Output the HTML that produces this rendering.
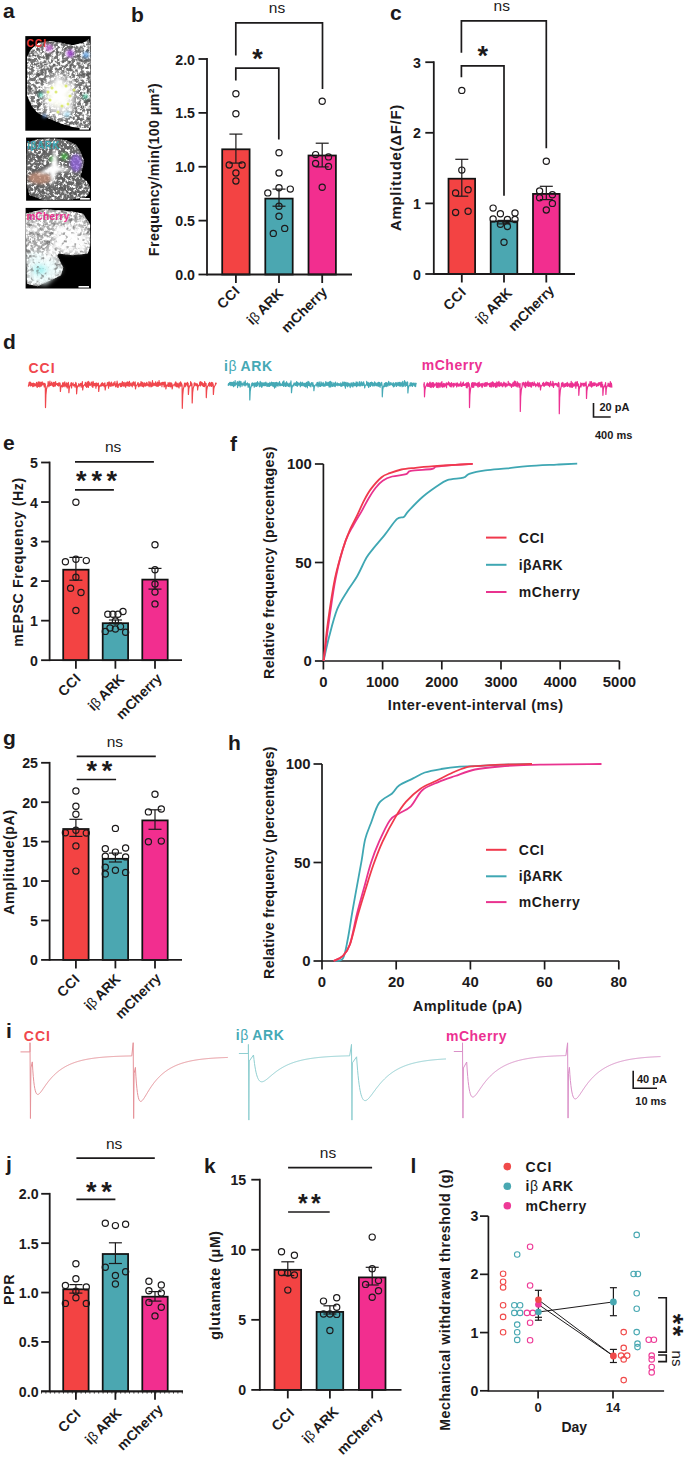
<!DOCTYPE html>
<html><head><meta charset="utf-8"><style>
html,body{margin:0;padding:0;background:#fff;}
body{width:685px;height:1457px;overflow:hidden;}
svg{display:block;}
</style></head><body>
<svg width="685" height="1457" viewBox="0 0 685 1457">
<rect width="685" height="1457" fill="#ffffff"/>
<text x="3.0" y="17.5" font-family="Liberation Sans" font-size="21" font-weight="bold" text-anchor="start" fill="#1c1a1b" >a</text>
<text x="131.0" y="21.5" font-family="Liberation Sans" font-size="21" font-weight="bold" text-anchor="start" fill="#1c1a1b" >b</text>
<text x="390.0" y="19.5" font-family="Liberation Sans" font-size="21" font-weight="bold" text-anchor="start" fill="#1c1a1b" >c</text>
<text x="3.0" y="349.0" font-family="Liberation Sans" font-size="21" font-weight="bold" text-anchor="start" fill="#1c1a1b" >d</text>
<text x="3.0" y="449.5" font-family="Liberation Sans" font-size="21" font-weight="bold" text-anchor="start" fill="#1c1a1b" >e</text>
<text x="230.0" y="451.0" font-family="Liberation Sans" font-size="21" font-weight="bold" text-anchor="start" fill="#1c1a1b" >f</text>
<text x="3.0" y="744.5" font-family="Liberation Sans" font-size="21" font-weight="bold" text-anchor="start" fill="#1c1a1b" >g</text>
<text x="228.0" y="749.5" font-family="Liberation Sans" font-size="21" font-weight="bold" text-anchor="start" fill="#1c1a1b" >h</text>
<text x="6.0" y="1038.0" font-family="Liberation Sans" font-size="21" font-weight="bold" text-anchor="start" fill="#1c1a1b" >i</text>
<text x="6.0" y="1170.5" font-family="Liberation Sans" font-size="21" font-weight="bold" text-anchor="start" fill="#1c1a1b" >j</text>
<text x="204.0" y="1173.0" font-family="Liberation Sans" font-size="21" font-weight="bold" text-anchor="start" fill="#1c1a1b" >k</text>
<text x="410.5" y="1172.5" font-family="Liberation Sans" font-size="21" font-weight="bold" text-anchor="start" fill="#1c1a1b" >l</text>
<rect x="222.20" y="149.30" width="27.40" height="125.20" fill="#f34343" stroke="#121212" stroke-width="1.75"/>
<rect x="265.30" y="198.60" width="27.40" height="75.90" fill="#4ba7b1" stroke="#121212" stroke-width="1.75"/>
<rect x="308.50" y="155.50" width="27.40" height="119.00" fill="#f22e8f" stroke="#121212" stroke-width="1.75"/>
<line x1="235.90" y1="134.10" x2="235.90" y2="163.10" stroke="#1c1a1b" stroke-width="1.2" />
<line x1="229.40" y1="134.10" x2="242.40" y2="134.10" stroke="#1c1a1b" stroke-width="1.2" />
<line x1="229.40" y1="163.10" x2="242.40" y2="163.10" stroke="#1c1a1b" stroke-width="1.2" />
<line x1="279.00" y1="189.10" x2="279.00" y2="206.20" stroke="#1c1a1b" stroke-width="1.2" />
<line x1="272.50" y1="189.10" x2="285.50" y2="189.10" stroke="#1c1a1b" stroke-width="1.2" />
<line x1="272.50" y1="206.20" x2="285.50" y2="206.20" stroke="#1c1a1b" stroke-width="1.2" />
<line x1="322.20" y1="143.20" x2="322.20" y2="166.90" stroke="#1c1a1b" stroke-width="1.2" />
<line x1="315.70" y1="143.20" x2="328.70" y2="143.20" stroke="#1c1a1b" stroke-width="1.2" />
<line x1="315.70" y1="166.90" x2="328.70" y2="166.90" stroke="#1c1a1b" stroke-width="1.2" />
<circle cx="235.90" cy="93.70" r="3.1" fill="none" stroke="#1c1a1b" stroke-width="1.2"/>
<circle cx="235.90" cy="113.80" r="3.1" fill="none" stroke="#1c1a1b" stroke-width="1.2"/>
<circle cx="229.20" cy="165.00" r="3.1" fill="none" stroke="#1c1a1b" stroke-width="1.2"/>
<circle cx="242.10" cy="165.00" r="3.1" fill="none" stroke="#1c1a1b" stroke-width="1.2"/>
<circle cx="235.90" cy="173.00" r="3.1" fill="none" stroke="#1c1a1b" stroke-width="1.2"/>
<circle cx="235.90" cy="181.00" r="3.1" fill="none" stroke="#1c1a1b" stroke-width="1.2"/>
<circle cx="279.00" cy="152.70" r="3.1" fill="none" stroke="#1c1a1b" stroke-width="1.2"/>
<circle cx="279.00" cy="173.00" r="3.1" fill="none" stroke="#1c1a1b" stroke-width="1.2"/>
<circle cx="279.00" cy="187.80" r="3.1" fill="none" stroke="#1c1a1b" stroke-width="1.2"/>
<circle cx="290.30" cy="189.10" r="3.1" fill="none" stroke="#1c1a1b" stroke-width="1.2"/>
<circle cx="267.80" cy="192.90" r="3.1" fill="none" stroke="#1c1a1b" stroke-width="1.2"/>
<circle cx="279.00" cy="206.20" r="3.1" fill="none" stroke="#1c1a1b" stroke-width="1.2"/>
<circle cx="279.00" cy="216.30" r="3.1" fill="none" stroke="#1c1a1b" stroke-width="1.2"/>
<circle cx="284.70" cy="228.40" r="3.1" fill="none" stroke="#1c1a1b" stroke-width="1.2"/>
<circle cx="273.30" cy="233.40" r="3.1" fill="none" stroke="#1c1a1b" stroke-width="1.2"/>
<circle cx="322.20" cy="101.30" r="3.1" fill="none" stroke="#1c1a1b" stroke-width="1.2"/>
<circle cx="315.60" cy="154.60" r="3.1" fill="none" stroke="#1c1a1b" stroke-width="1.2"/>
<circle cx="328.50" cy="156.90" r="3.1" fill="none" stroke="#1c1a1b" stroke-width="1.2"/>
<circle cx="315.60" cy="163.50" r="3.1" fill="none" stroke="#1c1a1b" stroke-width="1.2"/>
<circle cx="328.50" cy="166.40" r="3.1" fill="none" stroke="#1c1a1b" stroke-width="1.2"/>
<circle cx="322.20" cy="187.20" r="3.1" fill="none" stroke="#1c1a1b" stroke-width="1.2"/>
<line x1="207.00" y1="58.10" x2="207.00" y2="275.40" stroke="#1c1a1b" stroke-width="1.8" />
<line x1="207.00" y1="274.50" x2="352.00" y2="274.50" stroke="#1c1a1b" stroke-width="1.8" />
<line x1="198.50" y1="274.50" x2="207.00" y2="274.50" stroke="#1c1a1b" stroke-width="1.8" />
<text x="195.0" y="280.0" font-family="Liberation Sans" font-size="14.2" font-weight="bold" text-anchor="end" fill="#1c1a1b" >0.0</text>
<line x1="198.50" y1="220.62" x2="207.00" y2="220.62" stroke="#1c1a1b" stroke-width="1.8" />
<text x="195.0" y="226.1" font-family="Liberation Sans" font-size="14.2" font-weight="bold" text-anchor="end" fill="#1c1a1b" >0.5</text>
<line x1="198.50" y1="166.75" x2="207.00" y2="166.75" stroke="#1c1a1b" stroke-width="1.8" />
<text x="195.0" y="172.2" font-family="Liberation Sans" font-size="14.2" font-weight="bold" text-anchor="end" fill="#1c1a1b" >1.0</text>
<line x1="198.50" y1="112.88" x2="207.00" y2="112.88" stroke="#1c1a1b" stroke-width="1.8" />
<text x="195.0" y="118.4" font-family="Liberation Sans" font-size="14.2" font-weight="bold" text-anchor="end" fill="#1c1a1b" >1.5</text>
<line x1="198.50" y1="59.00" x2="207.00" y2="59.00" stroke="#1c1a1b" stroke-width="1.8" />
<text x="195.0" y="64.5" font-family="Liberation Sans" font-size="14.2" font-weight="bold" text-anchor="end" fill="#1c1a1b" >2.0</text>
<line x1="235.90" y1="274.50" x2="235.90" y2="283.00" stroke="#1c1a1b" stroke-width="1.8" />
<line x1="279.00" y1="274.50" x2="279.00" y2="283.00" stroke="#1c1a1b" stroke-width="1.8" />
<line x1="322.20" y1="274.50" x2="322.20" y2="283.00" stroke="#1c1a1b" stroke-width="1.8" />
<text x="240.9" y="291.6" font-family="Liberation Sans" font-size="14" font-weight="bold" text-anchor="end" fill="#1c1a1b" transform="rotate(-45 240.9 291.6)" letter-spacing="0.5">CCI</text>
<text x="284.0" y="294.4" font-family="Liberation Sans" font-size="14" font-weight="bold" text-anchor="end" fill="#1c1a1b" transform="rotate(-45 284.0 294.4)" letter-spacing="-0.1">i<tspan font-weight="normal">β</tspan>&#8201;ARK</text>
<text x="328.1" y="292.6" font-family="Liberation Sans" font-size="14" font-weight="bold" text-anchor="end" fill="#1c1a1b" transform="rotate(-45 328.1 292.6)" letter-spacing="0.05">mCherry</text>
<text x="154.0" y="169.5" font-family="Liberation Sans" font-size="14.2" font-weight="bold" text-anchor="middle" fill="#1c1a1b" transform="rotate(-90 154.0 169.5)" dominant-baseline="central" letter-spacing="0.42">Frequency/min(100 μm²)</text>
<polyline points="235.80,55.40 235.80,22.80 322.50,22.80 322.50,89.00" fill="none" stroke="#1c1a1b" stroke-width="1.7" stroke-linejoin="miter" />
<polyline points="235.80,80.60 235.80,68.20 278.80,68.20 278.80,139.40" fill="none" stroke="#1c1a1b" stroke-width="1.7" stroke-linejoin="miter" />
<text x="277.0" y="13.3" font-family="Liberation Sans" font-size="15.5" font-weight="normal" text-anchor="middle" fill="#1c1a1b" >ns</text>
<text x="257.4" y="68.0" font-family="Liberation Sans" font-size="27" font-weight="bold" text-anchor="middle" fill="#1c1a1b" >*</text>
<rect x="448.50" y="178.70" width="26.60" height="95.30" fill="#f34343" stroke="#121212" stroke-width="1.75"/>
<rect x="490.70" y="221.40" width="26.60" height="52.60" fill="#4ba7b1" stroke="#121212" stroke-width="1.75"/>
<rect x="533.00" y="193.90" width="26.60" height="80.10" fill="#f22e8f" stroke="#121212" stroke-width="1.75"/>
<line x1="461.80" y1="159.30" x2="461.80" y2="196.20" stroke="#1c1a1b" stroke-width="1.2" />
<line x1="455.30" y1="159.30" x2="468.30" y2="159.30" stroke="#1c1a1b" stroke-width="1.2" />
<line x1="455.30" y1="196.20" x2="468.30" y2="196.20" stroke="#1c1a1b" stroke-width="1.2" />
<line x1="504.00" y1="220.40" x2="504.00" y2="223.90" stroke="#1c1a1b" stroke-width="1.2" />
<line x1="497.50" y1="220.40" x2="510.50" y2="220.40" stroke="#1c1a1b" stroke-width="1.2" />
<line x1="497.50" y1="223.90" x2="510.50" y2="223.90" stroke="#1c1a1b" stroke-width="1.2" />
<line x1="546.30" y1="186.30" x2="546.30" y2="199.60" stroke="#1c1a1b" stroke-width="1.2" />
<line x1="539.80" y1="186.30" x2="552.80" y2="186.30" stroke="#1c1a1b" stroke-width="1.2" />
<line x1="539.80" y1="199.60" x2="552.80" y2="199.60" stroke="#1c1a1b" stroke-width="1.2" />
<circle cx="461.80" cy="90.40" r="3.1" fill="none" stroke="#1c1a1b" stroke-width="1.2"/>
<circle cx="461.80" cy="170.10" r="3.1" fill="none" stroke="#1c1a1b" stroke-width="1.2"/>
<circle cx="455.60" cy="192.90" r="3.1" fill="none" stroke="#1c1a1b" stroke-width="1.2"/>
<circle cx="468.10" cy="189.70" r="3.1" fill="none" stroke="#1c1a1b" stroke-width="1.2"/>
<circle cx="455.60" cy="212.50" r="3.1" fill="none" stroke="#1c1a1b" stroke-width="1.2"/>
<circle cx="468.10" cy="211.30" r="3.1" fill="none" stroke="#1c1a1b" stroke-width="1.2"/>
<circle cx="493.10" cy="208.10" r="3.1" fill="none" stroke="#1c1a1b" stroke-width="1.2"/>
<circle cx="500.40" cy="213.80" r="3.1" fill="none" stroke="#1c1a1b" stroke-width="1.2"/>
<circle cx="515.00" cy="212.90" r="3.1" fill="none" stroke="#1c1a1b" stroke-width="1.2"/>
<circle cx="493.10" cy="218.90" r="3.1" fill="none" stroke="#1c1a1b" stroke-width="1.2"/>
<circle cx="507.40" cy="219.50" r="3.1" fill="none" stroke="#1c1a1b" stroke-width="1.2"/>
<circle cx="515.00" cy="219.50" r="3.1" fill="none" stroke="#1c1a1b" stroke-width="1.2"/>
<circle cx="500.40" cy="224.20" r="3.1" fill="none" stroke="#1c1a1b" stroke-width="1.2"/>
<circle cx="507.40" cy="226.50" r="3.1" fill="none" stroke="#1c1a1b" stroke-width="1.2"/>
<circle cx="504.00" cy="242.30" r="3.1" fill="none" stroke="#1c1a1b" stroke-width="1.2"/>
<circle cx="546.30" cy="161.20" r="3.1" fill="none" stroke="#1c1a1b" stroke-width="1.2"/>
<circle cx="539.60" cy="191.00" r="3.1" fill="none" stroke="#1c1a1b" stroke-width="1.2"/>
<circle cx="552.40" cy="194.80" r="3.1" fill="none" stroke="#1c1a1b" stroke-width="1.2"/>
<circle cx="539.60" cy="197.70" r="3.1" fill="none" stroke="#1c1a1b" stroke-width="1.2"/>
<circle cx="552.40" cy="203.40" r="3.1" fill="none" stroke="#1c1a1b" stroke-width="1.2"/>
<circle cx="546.30" cy="210.00" r="3.1" fill="none" stroke="#1c1a1b" stroke-width="1.2"/>
<line x1="433.80" y1="61.30" x2="433.80" y2="274.90" stroke="#1c1a1b" stroke-width="1.8" />
<line x1="433.80" y1="274.00" x2="575.00" y2="274.00" stroke="#1c1a1b" stroke-width="1.8" />
<line x1="425.30" y1="274.00" x2="433.80" y2="274.00" stroke="#1c1a1b" stroke-width="1.8" />
<text x="421.0" y="279.5" font-family="Liberation Sans" font-size="14.2" font-weight="bold" text-anchor="end" fill="#1c1a1b" >0</text>
<line x1="425.30" y1="203.40" x2="433.80" y2="203.40" stroke="#1c1a1b" stroke-width="1.8" />
<text x="421.0" y="208.9" font-family="Liberation Sans" font-size="14.2" font-weight="bold" text-anchor="end" fill="#1c1a1b" >1</text>
<line x1="425.30" y1="132.80" x2="433.80" y2="132.80" stroke="#1c1a1b" stroke-width="1.8" />
<text x="421.0" y="138.3" font-family="Liberation Sans" font-size="14.2" font-weight="bold" text-anchor="end" fill="#1c1a1b" >2</text>
<line x1="425.30" y1="62.20" x2="433.80" y2="62.20" stroke="#1c1a1b" stroke-width="1.8" />
<text x="421.0" y="67.7" font-family="Liberation Sans" font-size="14.2" font-weight="bold" text-anchor="end" fill="#1c1a1b" >3</text>
<line x1="461.80" y1="274.00" x2="461.80" y2="282.50" stroke="#1c1a1b" stroke-width="1.8" />
<line x1="504.00" y1="274.00" x2="504.00" y2="282.50" stroke="#1c1a1b" stroke-width="1.8" />
<line x1="546.30" y1="274.00" x2="546.30" y2="282.50" stroke="#1c1a1b" stroke-width="1.8" />
<text x="467.2" y="293.0" font-family="Liberation Sans" font-size="14" font-weight="bold" text-anchor="end" fill="#1c1a1b" transform="rotate(-45 467.2 293.0)" letter-spacing="0.5">CCI</text>
<text x="512.8" y="293.9" font-family="Liberation Sans" font-size="14" font-weight="bold" text-anchor="end" fill="#1c1a1b" transform="rotate(-45 512.8 293.9)" letter-spacing="-0.1">i<tspan font-weight="normal">β</tspan>&#8201;ARK</text>
<text x="555.1" y="291.1" font-family="Liberation Sans" font-size="14" font-weight="bold" text-anchor="end" fill="#1c1a1b" transform="rotate(-45 555.1 291.1)" letter-spacing="0.05">mCherry</text>
<text x="395.0" y="167.5" font-family="Liberation Sans" font-size="15" font-weight="bold" text-anchor="middle" fill="#1c1a1b" transform="rotate(-90 395.0 167.5)" dominant-baseline="central" letter-spacing="0.7">Amplitude(ΔF/F)</text>
<polyline points="461.40,52.70 461.40,20.80 546.30,20.80 546.30,148.30" fill="none" stroke="#1c1a1b" stroke-width="1.7" stroke-linejoin="miter" />
<polyline points="461.40,77.30 461.40,65.80 504.00,65.80 504.00,195.80" fill="none" stroke="#1c1a1b" stroke-width="1.7" stroke-linejoin="miter" />
<text x="501.8" y="11.0" font-family="Liberation Sans" font-size="15.5" font-weight="normal" text-anchor="middle" fill="#1c1a1b" >ns</text>
<text x="482.8" y="65.4" font-family="Liberation Sans" font-size="27" font-weight="bold" text-anchor="middle" fill="#1c1a1b" >*</text>
<rect x="63.20" y="569.70" width="25.40" height="90.50" fill="#f34343" stroke="#121212" stroke-width="1.75"/>
<rect x="102.70" y="623.20" width="25.40" height="37.00" fill="#4ba7b1" stroke="#121212" stroke-width="1.75"/>
<rect x="142.30" y="579.60" width="25.40" height="80.60" fill="#f22e8f" stroke="#121212" stroke-width="1.75"/>
<line x1="75.90" y1="557.40" x2="75.90" y2="580.20" stroke="#1c1a1b" stroke-width="1.2" />
<line x1="69.40" y1="557.40" x2="82.40" y2="557.40" stroke="#1c1a1b" stroke-width="1.2" />
<line x1="69.40" y1="580.20" x2="82.40" y2="580.20" stroke="#1c1a1b" stroke-width="1.2" />
<line x1="115.40" y1="620.00" x2="115.40" y2="622.90" stroke="#1c1a1b" stroke-width="1.2" />
<line x1="108.90" y1="620.00" x2="121.90" y2="620.00" stroke="#1c1a1b" stroke-width="1.2" />
<line x1="108.90" y1="622.90" x2="121.90" y2="622.90" stroke="#1c1a1b" stroke-width="1.2" />
<line x1="155.00" y1="568.40" x2="155.00" y2="589.10" stroke="#1c1a1b" stroke-width="1.2" />
<line x1="148.50" y1="568.40" x2="161.50" y2="568.40" stroke="#1c1a1b" stroke-width="1.2" />
<line x1="148.50" y1="589.10" x2="161.50" y2="589.10" stroke="#1c1a1b" stroke-width="1.2" />
<circle cx="75.90" cy="502.30" r="3.1" fill="none" stroke="#1c1a1b" stroke-width="1.2"/>
<circle cx="65.40" cy="561.70" r="3.1" fill="none" stroke="#1c1a1b" stroke-width="1.2"/>
<circle cx="75.90" cy="559.30" r="3.1" fill="none" stroke="#1c1a1b" stroke-width="1.2"/>
<circle cx="86.30" cy="560.60" r="3.1" fill="none" stroke="#1c1a1b" stroke-width="1.2"/>
<circle cx="75.90" cy="577.30" r="3.1" fill="none" stroke="#1c1a1b" stroke-width="1.2"/>
<circle cx="70.60" cy="588.30" r="3.1" fill="none" stroke="#1c1a1b" stroke-width="1.2"/>
<circle cx="81.00" cy="592.50" r="3.1" fill="none" stroke="#1c1a1b" stroke-width="1.2"/>
<circle cx="75.90" cy="610.50" r="3.1" fill="none" stroke="#1c1a1b" stroke-width="1.2"/>
<circle cx="107.80" cy="614.30" r="3.1" fill="none" stroke="#1c1a1b" stroke-width="1.2"/>
<circle cx="112.90" cy="614.30" r="3.1" fill="none" stroke="#1c1a1b" stroke-width="1.2"/>
<circle cx="118.00" cy="614.30" r="3.1" fill="none" stroke="#1c1a1b" stroke-width="1.2"/>
<circle cx="123.00" cy="611.50" r="3.1" fill="none" stroke="#1c1a1b" stroke-width="1.2"/>
<circle cx="115.40" cy="621.00" r="3.1" fill="none" stroke="#1c1a1b" stroke-width="1.2"/>
<circle cx="105.30" cy="631.40" r="3.1" fill="none" stroke="#1c1a1b" stroke-width="1.2"/>
<circle cx="110.00" cy="628.00" r="3.1" fill="none" stroke="#1c1a1b" stroke-width="1.2"/>
<circle cx="115.40" cy="629.00" r="3.1" fill="none" stroke="#1c1a1b" stroke-width="1.2"/>
<circle cx="120.50" cy="626.60" r="3.1" fill="none" stroke="#1c1a1b" stroke-width="1.2"/>
<circle cx="125.60" cy="632.30" r="3.1" fill="none" stroke="#1c1a1b" stroke-width="1.2"/>
<circle cx="155.00" cy="544.70" r="3.1" fill="none" stroke="#1c1a1b" stroke-width="1.2"/>
<circle cx="155.00" cy="569.70" r="3.1" fill="none" stroke="#1c1a1b" stroke-width="1.2"/>
<circle cx="155.00" cy="584.00" r="3.1" fill="none" stroke="#1c1a1b" stroke-width="1.2"/>
<circle cx="155.00" cy="592.10" r="3.1" fill="none" stroke="#1c1a1b" stroke-width="1.2"/>
<circle cx="155.00" cy="603.90" r="3.1" fill="none" stroke="#1c1a1b" stroke-width="1.2"/>
<line x1="49.60" y1="461.60" x2="49.60" y2="661.10" stroke="#1c1a1b" stroke-width="1.8" />
<line x1="49.60" y1="660.20" x2="182.00" y2="660.20" stroke="#1c1a1b" stroke-width="1.8" />
<line x1="41.10" y1="660.20" x2="49.60" y2="660.20" stroke="#1c1a1b" stroke-width="1.8" />
<text x="38.0" y="665.7" font-family="Liberation Sans" font-size="14.2" font-weight="bold" text-anchor="end" fill="#1c1a1b" >0</text>
<line x1="41.10" y1="620.66" x2="49.60" y2="620.66" stroke="#1c1a1b" stroke-width="1.8" />
<text x="38.0" y="626.2" font-family="Liberation Sans" font-size="14.2" font-weight="bold" text-anchor="end" fill="#1c1a1b" >1</text>
<line x1="41.10" y1="581.12" x2="49.60" y2="581.12" stroke="#1c1a1b" stroke-width="1.8" />
<text x="38.0" y="586.6" font-family="Liberation Sans" font-size="14.2" font-weight="bold" text-anchor="end" fill="#1c1a1b" >2</text>
<line x1="41.10" y1="541.58" x2="49.60" y2="541.58" stroke="#1c1a1b" stroke-width="1.8" />
<text x="38.0" y="547.1" font-family="Liberation Sans" font-size="14.2" font-weight="bold" text-anchor="end" fill="#1c1a1b" >3</text>
<line x1="41.10" y1="502.04" x2="49.60" y2="502.04" stroke="#1c1a1b" stroke-width="1.8" />
<text x="38.0" y="507.5" font-family="Liberation Sans" font-size="14.2" font-weight="bold" text-anchor="end" fill="#1c1a1b" >4</text>
<line x1="41.10" y1="462.50" x2="49.60" y2="462.50" stroke="#1c1a1b" stroke-width="1.8" />
<text x="38.0" y="468.0" font-family="Liberation Sans" font-size="14.2" font-weight="bold" text-anchor="end" fill="#1c1a1b" >5</text>
<line x1="75.90" y1="660.20" x2="75.90" y2="668.70" stroke="#1c1a1b" stroke-width="1.8" />
<line x1="115.40" y1="660.20" x2="115.40" y2="668.70" stroke="#1c1a1b" stroke-width="1.8" />
<line x1="155.00" y1="660.20" x2="155.00" y2="668.70" stroke="#1c1a1b" stroke-width="1.8" />
<text x="81.9" y="679.2" font-family="Liberation Sans" font-size="14" font-weight="bold" text-anchor="end" fill="#1c1a1b" transform="rotate(-45 81.9 679.2)" letter-spacing="0.5">CCI</text>
<text x="125.1" y="680.2" font-family="Liberation Sans" font-size="14" font-weight="bold" text-anchor="end" fill="#1c1a1b" transform="rotate(-45 125.1 680.2)" letter-spacing="-0.1">i<tspan font-weight="normal">β</tspan>&#8201;ARK</text>
<text x="162.8" y="679.2" font-family="Liberation Sans" font-size="14" font-weight="bold" text-anchor="end" fill="#1c1a1b" transform="rotate(-45 162.8 679.2)" letter-spacing="0.05">mCherry</text>
<text x="17.5" y="562.0" font-family="Liberation Sans" font-size="14.2" font-weight="bold" text-anchor="middle" fill="#1c1a1b" transform="rotate(-90 17.5 562.0)" dominant-baseline="central" letter-spacing="0.6">mEPSC Frequency (Hz)</text>
<line x1="75.00" y1="461.80" x2="153.90" y2="461.80" stroke="#1c1a1b" stroke-width="1.7" />
<line x1="75.00" y1="489.80" x2="113.90" y2="489.80" stroke="#1c1a1b" stroke-width="1.7" />
<text x="113.2" y="452.0" font-family="Liberation Sans" font-size="15.5" font-weight="normal" text-anchor="middle" fill="#1c1a1b" >ns</text>
<text x="81.2" y="490.4" font-family="Liberation Sans" font-size="27" font-weight="bold" text-anchor="middle" fill="#1c1a1b" >*</text>
<text x="96.7" y="490.4" font-family="Liberation Sans" font-size="27" font-weight="bold" text-anchor="middle" fill="#1c1a1b" >*</text>
<text x="111.8" y="490.4" font-family="Liberation Sans" font-size="27" font-weight="bold" text-anchor="middle" fill="#1c1a1b" >*</text>
<rect x="63.20" y="829.00" width="25.40" height="130.90" fill="#f34343" stroke="#121212" stroke-width="1.75"/>
<rect x="102.70" y="858.80" width="25.40" height="101.10" fill="#4ba7b1" stroke="#121212" stroke-width="1.75"/>
<rect x="142.30" y="820.40" width="25.40" height="139.50" fill="#f22e8f" stroke="#121212" stroke-width="1.75"/>
<line x1="75.90" y1="819.30" x2="75.90" y2="836.40" stroke="#1c1a1b" stroke-width="1.2" />
<line x1="69.40" y1="819.30" x2="82.40" y2="819.30" stroke="#1c1a1b" stroke-width="1.2" />
<line x1="69.40" y1="836.40" x2="82.40" y2="836.40" stroke="#1c1a1b" stroke-width="1.2" />
<line x1="115.40" y1="853.10" x2="115.40" y2="862.00" stroke="#1c1a1b" stroke-width="1.2" />
<line x1="108.90" y1="853.10" x2="121.90" y2="853.10" stroke="#1c1a1b" stroke-width="1.2" />
<line x1="108.90" y1="862.00" x2="121.90" y2="862.00" stroke="#1c1a1b" stroke-width="1.2" />
<line x1="155.00" y1="809.80" x2="155.00" y2="829.30" stroke="#1c1a1b" stroke-width="1.2" />
<line x1="148.50" y1="809.80" x2="161.50" y2="809.80" stroke="#1c1a1b" stroke-width="1.2" />
<line x1="148.50" y1="829.30" x2="161.50" y2="829.30" stroke="#1c1a1b" stroke-width="1.2" />
<circle cx="75.90" cy="791.00" r="3.1" fill="none" stroke="#1c1a1b" stroke-width="1.2"/>
<circle cx="75.90" cy="806.20" r="3.1" fill="none" stroke="#1c1a1b" stroke-width="1.2"/>
<circle cx="75.90" cy="814.20" r="3.1" fill="none" stroke="#1c1a1b" stroke-width="1.2"/>
<circle cx="65.40" cy="832.80" r="3.1" fill="none" stroke="#1c1a1b" stroke-width="1.2"/>
<circle cx="75.90" cy="830.30" r="3.1" fill="none" stroke="#1c1a1b" stroke-width="1.2"/>
<circle cx="86.30" cy="833.10" r="3.1" fill="none" stroke="#1c1a1b" stroke-width="1.2"/>
<circle cx="75.90" cy="845.90" r="3.1" fill="none" stroke="#1c1a1b" stroke-width="1.2"/>
<circle cx="75.90" cy="871.10" r="3.1" fill="none" stroke="#1c1a1b" stroke-width="1.2"/>
<circle cx="115.40" cy="828.40" r="3.1" fill="none" stroke="#1c1a1b" stroke-width="1.2"/>
<circle cx="105.30" cy="848.70" r="3.1" fill="none" stroke="#1c1a1b" stroke-width="1.2"/>
<circle cx="125.60" cy="848.00" r="3.1" fill="none" stroke="#1c1a1b" stroke-width="1.2"/>
<circle cx="115.40" cy="852.10" r="3.1" fill="none" stroke="#1c1a1b" stroke-width="1.2"/>
<circle cx="105.30" cy="856.30" r="3.1" fill="none" stroke="#1c1a1b" stroke-width="1.2"/>
<circle cx="125.60" cy="856.90" r="3.1" fill="none" stroke="#1c1a1b" stroke-width="1.2"/>
<circle cx="105.30" cy="867.30" r="3.1" fill="none" stroke="#1c1a1b" stroke-width="1.2"/>
<circle cx="115.40" cy="870.20" r="3.1" fill="none" stroke="#1c1a1b" stroke-width="1.2"/>
<circle cx="125.60" cy="872.40" r="3.1" fill="none" stroke="#1c1a1b" stroke-width="1.2"/>
<circle cx="105.30" cy="874.00" r="3.1" fill="none" stroke="#1c1a1b" stroke-width="1.2"/>
<circle cx="155.00" cy="794.20" r="3.1" fill="none" stroke="#1c1a1b" stroke-width="1.2"/>
<circle cx="148.40" cy="811.90" r="3.1" fill="none" stroke="#1c1a1b" stroke-width="1.2"/>
<circle cx="161.30" cy="809.00" r="3.1" fill="none" stroke="#1c1a1b" stroke-width="1.2"/>
<circle cx="148.40" cy="841.70" r="3.1" fill="none" stroke="#1c1a1b" stroke-width="1.2"/>
<circle cx="161.30" cy="841.10" r="3.1" fill="none" stroke="#1c1a1b" stroke-width="1.2"/>
<line x1="49.60" y1="761.90" x2="49.60" y2="960.80" stroke="#1c1a1b" stroke-width="1.8" />
<line x1="49.60" y1="959.90" x2="182.00" y2="959.90" stroke="#1c1a1b" stroke-width="1.8" />
<line x1="41.10" y1="959.90" x2="49.60" y2="959.90" stroke="#1c1a1b" stroke-width="1.8" />
<text x="38.0" y="965.4" font-family="Liberation Sans" font-size="14.2" font-weight="bold" text-anchor="end" fill="#1c1a1b" >0</text>
<line x1="41.10" y1="920.48" x2="49.60" y2="920.48" stroke="#1c1a1b" stroke-width="1.8" />
<text x="38.0" y="926.0" font-family="Liberation Sans" font-size="14.2" font-weight="bold" text-anchor="end" fill="#1c1a1b" >5</text>
<line x1="41.10" y1="881.06" x2="49.60" y2="881.06" stroke="#1c1a1b" stroke-width="1.8" />
<text x="38.0" y="886.6" font-family="Liberation Sans" font-size="14.2" font-weight="bold" text-anchor="end" fill="#1c1a1b" >10</text>
<line x1="41.10" y1="841.64" x2="49.60" y2="841.64" stroke="#1c1a1b" stroke-width="1.8" />
<text x="38.0" y="847.1" font-family="Liberation Sans" font-size="14.2" font-weight="bold" text-anchor="end" fill="#1c1a1b" >15</text>
<line x1="41.10" y1="802.22" x2="49.60" y2="802.22" stroke="#1c1a1b" stroke-width="1.8" />
<text x="38.0" y="807.7" font-family="Liberation Sans" font-size="14.2" font-weight="bold" text-anchor="end" fill="#1c1a1b" >20</text>
<line x1="41.10" y1="762.80" x2="49.60" y2="762.80" stroke="#1c1a1b" stroke-width="1.8" />
<text x="38.0" y="768.3" font-family="Liberation Sans" font-size="14.2" font-weight="bold" text-anchor="end" fill="#1c1a1b" >25</text>
<line x1="75.90" y1="959.90" x2="75.90" y2="968.40" stroke="#1c1a1b" stroke-width="1.8" />
<line x1="115.40" y1="959.90" x2="115.40" y2="968.40" stroke="#1c1a1b" stroke-width="1.8" />
<line x1="155.00" y1="959.90" x2="155.00" y2="968.40" stroke="#1c1a1b" stroke-width="1.8" />
<text x="80.9" y="979.9" font-family="Liberation Sans" font-size="14" font-weight="bold" text-anchor="end" fill="#1c1a1b" transform="rotate(-45 80.9 979.9)" letter-spacing="0.5">CCI</text>
<text x="121.4" y="979.9" font-family="Liberation Sans" font-size="14" font-weight="bold" text-anchor="end" fill="#1c1a1b" transform="rotate(-45 121.4 979.9)" letter-spacing="-0.1">i<tspan font-weight="normal">β</tspan>&#8201;ARK</text>
<text x="161.9" y="978.9" font-family="Liberation Sans" font-size="14" font-weight="bold" text-anchor="end" fill="#1c1a1b" transform="rotate(-45 161.9 978.9)" letter-spacing="0.05">mCherry</text>
<text x="8.6" y="862.0" font-family="Liberation Sans" font-size="14.2" font-weight="bold" text-anchor="middle" fill="#1c1a1b" transform="rotate(-90 8.6 862.0)" dominant-baseline="central" letter-spacing="0.6">Amplitude(pA)</text>
<line x1="76.70" y1="756.30" x2="155.80" y2="756.30" stroke="#1c1a1b" stroke-width="1.7" />
<line x1="76.70" y1="779.50" x2="116.10" y2="779.50" stroke="#1c1a1b" stroke-width="1.7" />
<text x="114.9" y="746.7" font-family="Liberation Sans" font-size="15.5" font-weight="normal" text-anchor="middle" fill="#1c1a1b" >ns</text>
<text x="91.8" y="780.3" font-family="Liberation Sans" font-size="27" font-weight="bold" text-anchor="middle" fill="#1c1a1b" >*</text>
<text x="107.1" y="780.3" font-family="Liberation Sans" font-size="27" font-weight="bold" text-anchor="middle" fill="#1c1a1b" >*</text>
<rect x="63.20" y="1289.30" width="25.40" height="102.00" fill="#f34343" stroke="#121212" stroke-width="1.75"/>
<rect x="102.70" y="1254.00" width="25.40" height="137.30" fill="#4ba7b1" stroke="#121212" stroke-width="1.75"/>
<rect x="142.30" y="1296.70" width="25.40" height="94.60" fill="#f22e8f" stroke="#121212" stroke-width="1.75"/>
<line x1="75.90" y1="1284.60" x2="75.90" y2="1293.10" stroke="#1c1a1b" stroke-width="1.2" />
<line x1="69.40" y1="1284.60" x2="82.40" y2="1284.60" stroke="#1c1a1b" stroke-width="1.2" />
<line x1="69.40" y1="1293.10" x2="82.40" y2="1293.10" stroke="#1c1a1b" stroke-width="1.2" />
<line x1="115.40" y1="1242.80" x2="115.40" y2="1263.50" stroke="#1c1a1b" stroke-width="1.2" />
<line x1="108.90" y1="1242.80" x2="121.90" y2="1242.80" stroke="#1c1a1b" stroke-width="1.2" />
<line x1="108.90" y1="1263.50" x2="121.90" y2="1263.50" stroke="#1c1a1b" stroke-width="1.2" />
<line x1="155.00" y1="1291.60" x2="155.00" y2="1301.10" stroke="#1c1a1b" stroke-width="1.2" />
<line x1="148.50" y1="1291.60" x2="161.50" y2="1291.60" stroke="#1c1a1b" stroke-width="1.2" />
<line x1="148.50" y1="1301.10" x2="161.50" y2="1301.10" stroke="#1c1a1b" stroke-width="1.2" />
<circle cx="75.90" cy="1263.70" r="3.1" fill="none" stroke="#1c1a1b" stroke-width="1.2"/>
<circle cx="75.90" cy="1278.70" r="3.1" fill="none" stroke="#1c1a1b" stroke-width="1.2"/>
<circle cx="65.40" cy="1285.50" r="3.1" fill="none" stroke="#1c1a1b" stroke-width="1.2"/>
<circle cx="86.30" cy="1286.90" r="3.1" fill="none" stroke="#1c1a1b" stroke-width="1.2"/>
<circle cx="75.90" cy="1291.20" r="3.1" fill="none" stroke="#1c1a1b" stroke-width="1.2"/>
<circle cx="75.90" cy="1297.70" r="3.1" fill="none" stroke="#1c1a1b" stroke-width="1.2"/>
<circle cx="65.40" cy="1303.40" r="3.1" fill="none" stroke="#1c1a1b" stroke-width="1.2"/>
<circle cx="86.30" cy="1303.40" r="3.1" fill="none" stroke="#1c1a1b" stroke-width="1.2"/>
<circle cx="105.30" cy="1223.30" r="3.1" fill="none" stroke="#1c1a1b" stroke-width="1.2"/>
<circle cx="115.40" cy="1225.60" r="3.1" fill="none" stroke="#1c1a1b" stroke-width="1.2"/>
<circle cx="125.60" cy="1224.20" r="3.1" fill="none" stroke="#1c1a1b" stroke-width="1.2"/>
<circle cx="105.30" cy="1267.30" r="3.1" fill="none" stroke="#1c1a1b" stroke-width="1.2"/>
<circle cx="125.60" cy="1271.70" r="3.1" fill="none" stroke="#1c1a1b" stroke-width="1.2"/>
<circle cx="115.40" cy="1275.50" r="3.1" fill="none" stroke="#1c1a1b" stroke-width="1.2"/>
<circle cx="115.40" cy="1284.00" r="3.1" fill="none" stroke="#1c1a1b" stroke-width="1.2"/>
<circle cx="148.90" cy="1281.20" r="3.1" fill="none" stroke="#1c1a1b" stroke-width="1.2"/>
<circle cx="161.30" cy="1285.00" r="3.1" fill="none" stroke="#1c1a1b" stroke-width="1.2"/>
<circle cx="148.90" cy="1290.70" r="3.1" fill="none" stroke="#1c1a1b" stroke-width="1.2"/>
<circle cx="161.30" cy="1293.00" r="3.1" fill="none" stroke="#1c1a1b" stroke-width="1.2"/>
<circle cx="148.90" cy="1302.40" r="3.1" fill="none" stroke="#1c1a1b" stroke-width="1.2"/>
<circle cx="161.30" cy="1307.20" r="3.1" fill="none" stroke="#1c1a1b" stroke-width="1.2"/>
<circle cx="155.00" cy="1315.90" r="3.1" fill="none" stroke="#1c1a1b" stroke-width="1.2"/>
<line x1="49.70" y1="1192.90" x2="49.70" y2="1392.20" stroke="#1c1a1b" stroke-width="1.8" />
<line x1="49.70" y1="1391.30" x2="183.00" y2="1391.30" stroke="#1c1a1b" stroke-width="1.8" />
<line x1="41.20" y1="1391.30" x2="49.70" y2="1391.30" stroke="#1c1a1b" stroke-width="1.8" />
<text x="38.6" y="1396.8" font-family="Liberation Sans" font-size="14.2" font-weight="bold" text-anchor="end" fill="#1c1a1b" >0.0</text>
<line x1="41.20" y1="1341.92" x2="49.70" y2="1341.92" stroke="#1c1a1b" stroke-width="1.8" />
<text x="38.6" y="1347.4" font-family="Liberation Sans" font-size="14.2" font-weight="bold" text-anchor="end" fill="#1c1a1b" >0.5</text>
<line x1="41.20" y1="1292.55" x2="49.70" y2="1292.55" stroke="#1c1a1b" stroke-width="1.8" />
<text x="38.6" y="1298.0" font-family="Liberation Sans" font-size="14.2" font-weight="bold" text-anchor="end" fill="#1c1a1b" >1.0</text>
<line x1="41.20" y1="1243.17" x2="49.70" y2="1243.17" stroke="#1c1a1b" stroke-width="1.8" />
<text x="38.6" y="1248.7" font-family="Liberation Sans" font-size="14.2" font-weight="bold" text-anchor="end" fill="#1c1a1b" >1.5</text>
<line x1="41.20" y1="1193.80" x2="49.70" y2="1193.80" stroke="#1c1a1b" stroke-width="1.8" />
<text x="38.6" y="1199.3" font-family="Liberation Sans" font-size="14.2" font-weight="bold" text-anchor="end" fill="#1c1a1b" >2.0</text>
<line x1="75.90" y1="1391.30" x2="75.90" y2="1399.80" stroke="#1c1a1b" stroke-width="1.8" />
<line x1="115.40" y1="1391.30" x2="115.40" y2="1399.80" stroke="#1c1a1b" stroke-width="1.8" />
<line x1="155.00" y1="1391.30" x2="155.00" y2="1399.80" stroke="#1c1a1b" stroke-width="1.8" />
<text x="81.9" y="1415.0" font-family="Liberation Sans" font-size="14" font-weight="bold" text-anchor="end" fill="#1c1a1b" transform="rotate(-45 81.9 1415.0)" letter-spacing="0.5">CCI</text>
<text x="122.3" y="1414.1" font-family="Liberation Sans" font-size="14" font-weight="bold" text-anchor="end" fill="#1c1a1b" transform="rotate(-45 122.3 1414.1)" letter-spacing="-0.1">i<tspan font-weight="normal">β</tspan>&#8201;ARK</text>
<text x="163.8" y="1410.3" font-family="Liberation Sans" font-size="14" font-weight="bold" text-anchor="end" fill="#1c1a1b" transform="rotate(-45 163.8 1410.3)" letter-spacing="0.05">mCherry</text>
<text x="9.4" y="1289.5" font-family="Liberation Sans" font-size="14.2" font-weight="bold" text-anchor="middle" fill="#1c1a1b" transform="rotate(-90 9.4 1289.5)" dominant-baseline="central" letter-spacing="0.6">PPR</text>
<line x1="41.00" y1="1391.30" x2="183.00" y2="1391.30" stroke="#1c1a1b" stroke-width="1.7" />
<line x1="41.50" y1="1391.30" x2="41.50" y2="1393.60" stroke="#1c1a1b" stroke-width="0.8" />
<line x1="45.90" y1="1391.30" x2="45.90" y2="1393.60" stroke="#1c1a1b" stroke-width="0.8" />
<line x1="50.30" y1="1391.30" x2="50.30" y2="1393.60" stroke="#1c1a1b" stroke-width="0.8" />
<line x1="54.70" y1="1391.30" x2="54.70" y2="1393.60" stroke="#1c1a1b" stroke-width="0.8" />
<line x1="59.10" y1="1391.30" x2="59.10" y2="1393.60" stroke="#1c1a1b" stroke-width="0.8" />
<line x1="63.50" y1="1391.30" x2="63.50" y2="1393.60" stroke="#1c1a1b" stroke-width="0.8" />
<line x1="67.90" y1="1391.30" x2="67.90" y2="1393.60" stroke="#1c1a1b" stroke-width="0.8" />
<line x1="72.30" y1="1391.30" x2="72.30" y2="1393.60" stroke="#1c1a1b" stroke-width="0.8" />
<line x1="76.70" y1="1391.30" x2="76.70" y2="1393.60" stroke="#1c1a1b" stroke-width="0.8" />
<line x1="81.10" y1="1391.30" x2="81.10" y2="1393.60" stroke="#1c1a1b" stroke-width="0.8" />
<line x1="85.50" y1="1391.30" x2="85.50" y2="1393.60" stroke="#1c1a1b" stroke-width="0.8" />
<line x1="89.90" y1="1391.30" x2="89.90" y2="1393.60" stroke="#1c1a1b" stroke-width="0.8" />
<line x1="94.30" y1="1391.30" x2="94.30" y2="1393.60" stroke="#1c1a1b" stroke-width="0.8" />
<line x1="98.70" y1="1391.30" x2="98.70" y2="1393.60" stroke="#1c1a1b" stroke-width="0.8" />
<line x1="103.10" y1="1391.30" x2="103.10" y2="1393.60" stroke="#1c1a1b" stroke-width="0.8" />
<line x1="107.50" y1="1391.30" x2="107.50" y2="1393.60" stroke="#1c1a1b" stroke-width="0.8" />
<line x1="111.90" y1="1391.30" x2="111.90" y2="1393.60" stroke="#1c1a1b" stroke-width="0.8" />
<line x1="116.30" y1="1391.30" x2="116.30" y2="1393.60" stroke="#1c1a1b" stroke-width="0.8" />
<line x1="120.70" y1="1391.30" x2="120.70" y2="1393.60" stroke="#1c1a1b" stroke-width="0.8" />
<line x1="125.10" y1="1391.30" x2="125.10" y2="1393.60" stroke="#1c1a1b" stroke-width="0.8" />
<line x1="129.50" y1="1391.30" x2="129.50" y2="1393.60" stroke="#1c1a1b" stroke-width="0.8" />
<line x1="133.90" y1="1391.30" x2="133.90" y2="1393.60" stroke="#1c1a1b" stroke-width="0.8" />
<line x1="138.30" y1="1391.30" x2="138.30" y2="1393.60" stroke="#1c1a1b" stroke-width="0.8" />
<line x1="142.70" y1="1391.30" x2="142.70" y2="1393.60" stroke="#1c1a1b" stroke-width="0.8" />
<line x1="147.10" y1="1391.30" x2="147.10" y2="1393.60" stroke="#1c1a1b" stroke-width="0.8" />
<line x1="151.50" y1="1391.30" x2="151.50" y2="1393.60" stroke="#1c1a1b" stroke-width="0.8" />
<line x1="155.90" y1="1391.30" x2="155.90" y2="1393.60" stroke="#1c1a1b" stroke-width="0.8" />
<line x1="160.30" y1="1391.30" x2="160.30" y2="1393.60" stroke="#1c1a1b" stroke-width="0.8" />
<line x1="164.70" y1="1391.30" x2="164.70" y2="1393.60" stroke="#1c1a1b" stroke-width="0.8" />
<line x1="169.10" y1="1391.30" x2="169.10" y2="1393.60" stroke="#1c1a1b" stroke-width="0.8" />
<line x1="173.50" y1="1391.30" x2="173.50" y2="1393.60" stroke="#1c1a1b" stroke-width="0.8" />
<line x1="177.90" y1="1391.30" x2="177.90" y2="1393.60" stroke="#1c1a1b" stroke-width="0.8" />
<line x1="182.30" y1="1391.30" x2="182.30" y2="1393.60" stroke="#1c1a1b" stroke-width="0.8" />
<line x1="76.40" y1="1158.10" x2="154.80" y2="1158.10" stroke="#1c1a1b" stroke-width="1.7" />
<line x1="76.40" y1="1199.40" x2="115.40" y2="1199.40" stroke="#1c1a1b" stroke-width="1.7" />
<text x="114.1" y="1148.9" font-family="Liberation Sans" font-size="15.5" font-weight="normal" text-anchor="middle" fill="#1c1a1b" >ns</text>
<text x="91.3" y="1200.7" font-family="Liberation Sans" font-size="27" font-weight="bold" text-anchor="middle" fill="#1c1a1b" >*</text>
<text x="106.4" y="1200.7" font-family="Liberation Sans" font-size="27" font-weight="bold" text-anchor="middle" fill="#1c1a1b" >*</text>
<rect x="274.50" y="1269.80" width="26.60" height="120.10" fill="#f34343" stroke="#121212" stroke-width="1.75"/>
<rect x="316.60" y="1311.90" width="26.60" height="78.00" fill="#4ba7b1" stroke="#121212" stroke-width="1.75"/>
<rect x="358.90" y="1277.40" width="26.60" height="112.50" fill="#f22e8f" stroke="#121212" stroke-width="1.75"/>
<line x1="287.80" y1="1261.80" x2="287.80" y2="1275.50" stroke="#1c1a1b" stroke-width="1.2" />
<line x1="281.30" y1="1261.80" x2="294.30" y2="1261.80" stroke="#1c1a1b" stroke-width="1.2" />
<line x1="281.30" y1="1275.50" x2="294.30" y2="1275.50" stroke="#1c1a1b" stroke-width="1.2" />
<line x1="329.90" y1="1305.80" x2="329.90" y2="1314.00" stroke="#1c1a1b" stroke-width="1.2" />
<line x1="323.40" y1="1305.80" x2="336.40" y2="1305.80" stroke="#1c1a1b" stroke-width="1.2" />
<line x1="323.40" y1="1314.00" x2="336.40" y2="1314.00" stroke="#1c1a1b" stroke-width="1.2" />
<line x1="372.20" y1="1267.30" x2="372.20" y2="1285.00" stroke="#1c1a1b" stroke-width="1.2" />
<line x1="365.70" y1="1267.30" x2="378.70" y2="1267.30" stroke="#1c1a1b" stroke-width="1.2" />
<line x1="365.70" y1="1285.00" x2="378.70" y2="1285.00" stroke="#1c1a1b" stroke-width="1.2" />
<circle cx="281.50" cy="1251.80" r="3.1" fill="none" stroke="#1c1a1b" stroke-width="1.2"/>
<circle cx="294.40" cy="1255.20" r="3.1" fill="none" stroke="#1c1a1b" stroke-width="1.2"/>
<circle cx="281.50" cy="1272.60" r="3.1" fill="none" stroke="#1c1a1b" stroke-width="1.2"/>
<circle cx="287.80" cy="1273.00" r="3.1" fill="none" stroke="#1c1a1b" stroke-width="1.2"/>
<circle cx="294.40" cy="1274.90" r="3.1" fill="none" stroke="#1c1a1b" stroke-width="1.2"/>
<circle cx="287.80" cy="1290.10" r="3.1" fill="none" stroke="#1c1a1b" stroke-width="1.2"/>
<circle cx="323.50" cy="1301.10" r="3.1" fill="none" stroke="#1c1a1b" stroke-width="1.2"/>
<circle cx="336.70" cy="1297.70" r="3.1" fill="none" stroke="#1c1a1b" stroke-width="1.2"/>
<circle cx="336.70" cy="1307.20" r="3.1" fill="none" stroke="#1c1a1b" stroke-width="1.2"/>
<circle cx="323.50" cy="1314.00" r="3.1" fill="none" stroke="#1c1a1b" stroke-width="1.2"/>
<circle cx="329.90" cy="1314.00" r="3.1" fill="none" stroke="#1c1a1b" stroke-width="1.2"/>
<circle cx="336.70" cy="1314.40" r="3.1" fill="none" stroke="#1c1a1b" stroke-width="1.2"/>
<circle cx="329.90" cy="1330.50" r="3.1" fill="none" stroke="#1c1a1b" stroke-width="1.2"/>
<circle cx="372.20" cy="1237.10" r="3.1" fill="none" stroke="#1c1a1b" stroke-width="1.2"/>
<circle cx="372.20" cy="1268.80" r="3.1" fill="none" stroke="#1c1a1b" stroke-width="1.2"/>
<circle cx="378.50" cy="1280.60" r="3.1" fill="none" stroke="#1c1a1b" stroke-width="1.2"/>
<circle cx="365.60" cy="1284.40" r="3.1" fill="none" stroke="#1c1a1b" stroke-width="1.2"/>
<circle cx="378.50" cy="1290.70" r="3.1" fill="none" stroke="#1c1a1b" stroke-width="1.2"/>
<circle cx="372.20" cy="1297.30" r="3.1" fill="none" stroke="#1c1a1b" stroke-width="1.2"/>
<line x1="259.80" y1="1178.80" x2="259.80" y2="1390.80" stroke="#1c1a1b" stroke-width="1.8" />
<line x1="259.80" y1="1389.90" x2="401.50" y2="1389.90" stroke="#1c1a1b" stroke-width="1.8" />
<line x1="251.30" y1="1389.90" x2="259.80" y2="1389.90" stroke="#1c1a1b" stroke-width="1.8" />
<text x="246.2" y="1395.4" font-family="Liberation Sans" font-size="14.2" font-weight="bold" text-anchor="end" fill="#1c1a1b" >0</text>
<line x1="251.30" y1="1319.83" x2="259.80" y2="1319.83" stroke="#1c1a1b" stroke-width="1.8" />
<text x="246.2" y="1325.3" font-family="Liberation Sans" font-size="14.2" font-weight="bold" text-anchor="end" fill="#1c1a1b" >5</text>
<line x1="251.30" y1="1249.77" x2="259.80" y2="1249.77" stroke="#1c1a1b" stroke-width="1.8" />
<text x="246.2" y="1255.3" font-family="Liberation Sans" font-size="14.2" font-weight="bold" text-anchor="end" fill="#1c1a1b" >10</text>
<line x1="251.30" y1="1179.70" x2="259.80" y2="1179.70" stroke="#1c1a1b" stroke-width="1.8" />
<text x="246.2" y="1185.2" font-family="Liberation Sans" font-size="14.2" font-weight="bold" text-anchor="end" fill="#1c1a1b" >15</text>
<line x1="287.80" y1="1389.90" x2="287.80" y2="1398.40" stroke="#1c1a1b" stroke-width="1.8" />
<line x1="329.90" y1="1389.90" x2="329.90" y2="1398.40" stroke="#1c1a1b" stroke-width="1.8" />
<line x1="372.20" y1="1389.90" x2="372.20" y2="1398.40" stroke="#1c1a1b" stroke-width="1.8" />
<text x="295.3" y="1413.6" font-family="Liberation Sans" font-size="14" font-weight="bold" text-anchor="end" fill="#1c1a1b" transform="rotate(-45 295.3 1413.6)" letter-spacing="0.5">CCI</text>
<text x="339.3" y="1412.7" font-family="Liberation Sans" font-size="14" font-weight="bold" text-anchor="end" fill="#1c1a1b" transform="rotate(-45 339.3 1412.7)" letter-spacing="-0.1">i<tspan font-weight="normal">β</tspan>&#8201;ARK</text>
<text x="383.8" y="1414.6" font-family="Liberation Sans" font-size="14" font-weight="bold" text-anchor="end" fill="#1c1a1b" transform="rotate(-45 383.8 1414.6)" letter-spacing="0.05">mCherry</text>
<text x="214.5" y="1285.0" font-family="Liberation Sans" font-size="14.2" font-weight="bold" text-anchor="middle" fill="#1c1a1b" transform="rotate(-90 214.5 1285.0)" dominant-baseline="central" letter-spacing="0.6">glutamate (μM)</text>
<line x1="288.10" y1="1167.70" x2="372.10" y2="1167.70" stroke="#1c1a1b" stroke-width="1.7" />
<line x1="288.10" y1="1212.00" x2="329.70" y2="1212.00" stroke="#1c1a1b" stroke-width="1.7" />
<text x="328.0" y="1157.5" font-family="Liberation Sans" font-size="15.5" font-weight="normal" text-anchor="middle" fill="#1c1a1b" >ns</text>
<text x="302.9" y="1211.6" font-family="Liberation Sans" font-size="25" font-weight="bold" text-anchor="middle" fill="#1c1a1b" >*</text>
<text x="315.9" y="1211.6" font-family="Liberation Sans" font-size="25" font-weight="bold" text-anchor="middle" fill="#1c1a1b" >*</text>
<path d="M28.40,386.69 L28.62,384.85 L28.84,385.47 L29.06,382.64 L29.28,384.31 L29.50,383.43 L29.72,384.38 L29.94,381.96 L30.16,385.60 L30.38,383.53 L30.60,385.95 L30.82,382.49 L31.04,385.41 L31.26,383.34 L31.48,383.89 L31.70,383.94 L31.92,385.72 L32.14,385.79 L32.36,385.60 L32.58,383.26 L32.80,386.63 L33.02,383.60 L33.24,386.31 L33.46,383.03 L33.68,385.62 L33.90,384.42 L34.12,386.10 L34.34,383.53 L34.56,384.32 L34.78,383.85 L35.00,385.48 L35.22,384.12 L35.44,385.62 L35.66,384.49 L35.88,385.35 L36.10,383.60 L36.32,386.07 L36.54,382.31 L36.76,385.00 L36.98,382.90 L37.20,387.38 L37.42,383.31 L37.64,386.05 L37.86,384.02 L38.08,385.12 L38.30,381.85 L38.52,386.36 L38.74,382.99 L38.96,386.12 L39.18,382.09 L39.40,384.96 L39.62,384.66 L39.84,386.83 L40.06,382.10 L40.28,384.07 L40.50,383.36 L40.72,386.13 L40.94,383.56 L41.16,385.70 L41.38,382.41 L41.60,385.99 L41.82,384.52 L42.04,384.96 L42.26,381.97 L42.48,384.64 L42.70,384.16 L42.92,383.67 L43.14,383.31 L43.36,384.41 L43.58,383.27 L43.80,385.16 L44.02,383.42 L44.24,386.90 L44.46,383.82 L44.68,386.73 L44.90,383.26 L45.12,384.92 L45.30,384.40 L45.50,407.60 L45.90,394.84 L46.50,389.04 L47.30,386.26 L47.50,385.78 L47.72,385.10 L47.94,385.21 L48.16,381.48 L48.38,384.91 L48.60,383.53 L48.82,386.59 L49.04,384.66 L49.26,385.01 L49.48,382.63 L49.70,385.60 L49.92,381.00 L50.14,384.65 L50.36,385.15 L50.58,385.46 L50.80,384.29 L51.02,383.52 L51.24,383.29 L51.46,383.58 L51.68,382.13 L51.90,385.25 L52.12,383.10 L52.34,385.55 L52.56,384.29 L52.78,384.45 L53.00,383.77 L53.22,386.53 L53.44,382.46 L53.66,385.49 L53.88,382.69 L54.10,386.42 L54.32,382.42 L54.54,384.44 L54.76,383.17 L54.98,385.46 L55.20,383.48 L55.42,386.02 L55.64,381.69 L55.86,384.39 L56.08,383.94 L56.30,383.70 L56.52,383.71 L56.74,384.70 L56.96,384.22 L57.18,384.15 L57.40,383.56 L57.62,385.49 L57.84,385.07 L58.06,385.55 L58.28,383.40 L58.50,385.88 L58.72,382.75 L58.94,384.75 L59.16,383.93 L59.38,385.65 L59.60,382.80 L59.82,385.30 L60.04,383.17 L60.20,384.31 L60.40,391.50 L60.80,387.59 L61.40,385.82 L62.20,384.97 L62.40,386.96 L62.62,382.90 L62.84,386.42 L63.06,384.38 L63.28,385.55 L63.50,382.83 L63.72,385.71 L63.94,385.06 L64.16,386.75 L64.38,382.72 L64.60,385.36 L64.82,381.95 L65.04,384.26 L65.26,383.59 L65.48,385.42 L65.70,384.36 L65.92,386.67 L66.14,384.23 L66.36,386.72 L66.58,382.85 L66.80,384.27 L67.02,383.90 L67.24,388.08 L67.46,383.76 L67.68,384.25 L67.90,383.64 L68.12,386.83 L68.34,382.37 L68.56,386.20 L68.70,384.04 L68.90,392.70 L69.30,388.13 L69.90,386.06 L70.70,385.06 L70.90,383.16 L71.12,385.14 L71.34,382.61 L71.56,387.90 L71.78,384.01 L72.00,384.80 L72.22,383.94 L72.44,384.73 L72.66,384.93 L72.88,384.79 L73.10,382.74 L73.32,385.78 L73.54,385.45 L73.76,385.51 L73.98,385.20 L74.20,385.84 L74.42,384.66 L74.64,385.09 L74.86,384.35 L75.08,387.17 L75.30,384.94 L75.52,385.14 L75.74,382.43 L75.96,385.35 L76.18,383.01 L76.40,385.96 L76.40,384.75 L76.60,393.80 L77.00,388.63 L77.60,386.28 L78.40,385.15 L78.60,384.80 L78.82,383.67 L79.04,386.57 L79.26,384.30 L79.48,385.06 L79.70,384.53 L79.92,384.48 L80.14,385.20 L80.36,385.55 L80.58,383.29 L80.80,385.67 L81.02,384.25 L81.24,387.14 L81.46,383.26 L81.68,385.03 L81.90,383.99 L82.12,384.53 L82.34,381.70 L82.50,385.26 L82.70,390.00 L83.10,386.92 L83.70,385.52 L84.50,384.85 L84.70,384.25 L84.92,385.12 L85.14,384.96 L85.36,382.34 L85.58,386.13 L85.80,383.33 L86.02,385.34 L86.24,382.98 L86.46,384.46 L86.68,387.33 L86.90,383.79 L87.12,387.04 L87.34,381.85 L87.56,384.27 L87.78,382.78 L88.00,386.07 L88.22,382.89 L88.44,387.34 L88.66,381.43 L88.88,383.89 L89.10,383.81 L89.32,385.05 L89.54,382.95 L89.76,385.25 L89.98,383.78 L90.20,385.49 L90.42,384.57 L90.64,384.09 L90.86,383.83 L91.08,384.60 L91.30,382.09 L91.52,384.24 L91.74,382.46 L91.96,386.30 L92.18,383.47 L92.40,385.81 L92.62,383.18 L92.84,387.49 L93.06,381.31 L93.28,384.50 L93.50,382.62 L93.72,385.61 L93.94,383.83 L94.16,383.57 L94.38,384.89 L94.60,385.52 L94.82,383.81 L95.04,385.67 L95.26,383.61 L95.48,385.21 L95.70,383.59 L95.92,388.20 L96.14,382.96 L96.36,385.64 L96.58,383.77 L96.80,386.05 L97.02,383.38 L97.24,384.93 L97.46,384.23 L97.68,384.88 L97.90,385.55 L98.12,384.99 L98.34,383.19 L98.50,384.35 L98.70,391.50 L99.10,387.59 L99.70,385.82 L100.50,384.97 L100.70,386.14 L100.92,384.57 L101.14,386.26 L101.36,383.54 L101.58,385.44 L101.80,384.23 L102.02,385.31 L102.24,382.50 L102.46,384.78 L102.68,383.26 L102.90,385.73 L103.12,385.66 L103.34,384.03 L103.56,383.88 L103.78,385.31 L104.00,383.70 L104.22,386.75 L104.44,384.64 L104.66,385.24 L104.88,382.84 L105.00,383.92 L105.20,390.00 L105.60,386.92 L106.20,385.52 L107.00,384.85 L107.20,384.04 L107.42,382.57 L107.64,385.18 L107.86,383.41 L108.08,385.81 L108.30,382.85 L108.52,388.20 L108.74,382.02 L108.96,385.87 L109.18,381.92 L109.40,383.54 L109.62,382.74 L109.84,385.94 L110.06,382.99 L110.28,386.17 L110.50,384.61 L110.72,383.67 L110.94,383.11 L111.16,386.25 L111.38,382.14 L111.60,385.04 L111.82,382.78 L112.04,384.97 L112.26,384.14 L112.48,385.50 L112.70,384.54 L112.92,385.96 L113.14,383.76 L113.36,385.57 L113.58,382.85 L113.80,384.78 L114.02,383.71 L114.24,384.27 L114.46,383.78 L114.68,384.96 L114.90,381.62 L115.12,385.38 L115.34,385.56 L115.56,386.54 L115.78,384.20 L116.00,386.93 L116.22,385.25 L116.44,385.22 L116.66,383.20 L116.88,385.83 L117.10,381.17 L117.32,385.20 L117.54,382.83 L117.76,387.44 L117.98,384.78 L118.20,387.11 L118.42,384.25 L118.64,385.57 L118.86,384.88 L119.08,384.37 L119.30,385.00 L119.52,384.34 L119.74,383.36 L119.96,383.87 L120.18,383.86 L120.40,386.36 L120.62,384.27 L120.84,386.73 L121.06,383.02 L121.28,384.74 L121.50,385.76 L121.72,386.41 L121.94,383.85 L122.16,384.22 L122.38,381.51 L122.60,384.90 L122.82,382.44 L123.04,385.69 L123.26,382.99 L123.48,386.06 L123.70,384.83 L123.92,385.62 L124.14,382.27 L124.36,386.05 L124.58,384.27 L124.80,385.76 L125.02,383.73 L125.24,385.79 L125.46,383.29 L125.68,387.28 L125.90,382.59 L126.12,386.01 L126.34,382.85 L126.56,384.93 L126.78,384.63 L127.00,385.46 L127.22,381.95 L127.44,385.39 L127.66,381.99 L127.88,385.98 L128.10,383.31 L128.32,384.67 L128.54,382.26 L128.76,385.44 L128.98,383.56 L129.20,386.42 L129.42,381.38 L129.64,384.59 L129.86,384.10 L130.08,385.00 L130.30,383.21 L130.52,385.15 L130.74,384.48 L130.96,385.92 L131.18,383.82 L131.40,384.99 L131.62,383.61 L131.84,383.34 L132.06,382.82 L132.28,386.82 L132.50,383.96 L132.72,384.62 L132.94,382.91 L133.16,383.84 L133.38,381.77 L133.60,384.30 L133.82,385.42 L134.04,383.86 L134.26,382.84 L134.48,385.13 L134.70,383.40 L134.92,386.10 L135.14,381.87 L135.30,383.50 L135.50,389.00 L135.90,386.47 L136.50,385.32 L137.30,384.77 L137.50,384.69 L137.72,382.74 L137.94,383.96 L138.16,382.71 L138.38,386.38 L138.60,384.23 L138.82,386.79 L139.04,386.13 L139.26,386.11 L139.48,383.90 L139.70,384.09 L139.92,385.16 L140.14,385.60 L140.36,385.93 L140.58,383.26 L140.80,385.71 L141.02,381.50 L141.24,384.57 L141.46,382.09 L141.68,383.26 L141.90,384.17 L142.12,386.37 L142.34,383.22 L142.56,385.75 L142.78,382.39 L143.00,385.85 L143.22,384.16 L143.44,386.93 L143.66,384.96 L143.88,385.89 L144.10,383.27 L144.32,384.57 L144.54,382.79 L144.76,386.02 L144.98,383.97 L145.20,385.42 L145.42,385.06 L145.64,386.05 L145.86,383.42 L146.08,385.21 L146.30,383.48 L146.52,384.45 L146.74,382.42 L146.96,385.75 L147.18,382.82 L147.40,385.13 L147.62,384.62 L147.84,385.21 L148.06,384.71 L148.28,385.39 L148.50,384.92 L148.72,385.86 L148.94,381.64 L149.16,386.64 L149.38,383.19 L149.60,383.44 L149.82,383.51 L150.04,385.56 L150.26,382.11 L150.48,384.79 L150.70,383.95 L150.92,386.81 L151.14,384.54 L151.36,386.62 L151.58,384.52 L151.80,382.92 L152.02,382.67 L152.24,385.59 L152.46,380.71 L152.68,386.17 L152.90,384.29 L153.12,384.62 L153.34,383.02 L153.56,384.46 L153.78,383.38 L154.00,385.36 L154.22,383.39 L154.44,384.38 L154.66,383.79 L154.88,385.06 L155.10,384.35 L155.32,385.71 L155.54,381.92 L155.76,383.96 L155.98,383.47 L156.20,384.91 L156.42,383.87 L156.64,386.21 L156.86,383.42 L157.08,383.71 L157.30,382.20 L157.52,385.97 L157.74,382.35 L157.96,386.51 L158.18,383.31 L158.40,385.92 L158.62,382.52 L158.84,385.30 L159.06,380.60 L159.28,385.19 L159.50,383.97 L159.72,384.50 L159.94,382.56 L160.16,385.35 L160.38,383.46 L160.60,384.59 L160.82,384.08 L161.04,383.75 L161.26,384.51 L161.48,384.00 L161.70,382.58 L161.92,386.73 L162.14,382.41 L162.36,383.75 L162.58,383.48 L162.80,384.48 L163.02,382.28 L163.24,384.70 L163.46,382.66 L163.68,384.43 L163.90,382.37 L164.12,387.01 L164.34,382.73 L164.56,386.37 L164.78,381.99 L165.00,385.94 L165.22,382.15 L165.44,384.94 L165.66,384.04 L165.70,384.82 L165.90,389.00 L166.30,386.47 L166.90,385.32 L167.70,384.77 L167.90,386.28 L168.12,382.51 L168.34,386.49 L168.56,384.94 L168.78,384.28 L169.00,383.51 L169.22,386.55 L169.44,383.74 L169.66,385.37 L169.88,382.35 L170.10,384.50 L170.32,384.55 L170.54,386.58 L170.76,383.55 L170.98,386.84 L171.20,382.89 L171.42,384.15 L171.64,384.28 L171.86,384.86 L172.00,383.82 L172.20,389.00 L172.60,386.47 L173.20,385.32 L174.00,384.77 L174.20,384.98 L174.42,384.00 L174.64,384.88 L174.86,385.08 L175.08,386.25 L175.30,382.45 L175.52,385.26 L175.74,381.77 L175.96,385.28 L176.18,384.11 L176.40,386.67 L176.62,382.98 L176.84,383.61 L177.06,383.23 L177.28,386.76 L177.50,383.54 L177.72,386.68 L177.94,384.23 L178.16,386.96 L178.38,384.00 L178.60,384.74 L178.82,383.85 L179.04,387.94 L179.26,382.88 L179.48,383.54 L179.70,385.50 L179.92,385.81 L180.14,382.77 L180.36,384.79 L180.58,381.86 L180.80,386.10 L181.02,383.54 L181.24,384.77 L181.46,382.98 L181.68,384.97 L181.90,384.47 L182.10,385.23 L182.30,408.30 L182.70,395.15 L183.30,389.18 L184.10,386.31 L184.30,385.22 L184.52,383.21 L184.74,384.05 L184.96,383.31 L185.18,386.62 L185.40,383.75 L185.62,385.82 L185.84,383.20 L186.06,384.48 L186.28,383.41 L186.50,384.66 L186.72,383.08 L186.94,383.84 L187.16,383.24 L187.38,385.85 L187.60,382.47 L187.82,386.10 L188.04,383.92 L188.20,383.51 L188.40,394.50 L188.80,388.94 L189.40,386.42 L190.20,385.21 L190.40,385.78 L190.62,381.69 L190.84,384.19 L191.06,383.46 L191.28,385.66 L191.50,382.88 L191.72,383.64 L191.94,384.74 L192.00,384.08 L192.20,403.00 L192.60,392.77 L193.20,388.12 L194.00,385.89 L194.20,383.09 L194.42,385.66 L194.64,382.97 L194.86,385.24 L195.08,382.98 L195.30,384.46 L195.52,384.09 L195.74,384.96 L195.96,383.82 L196.18,385.61 L196.40,385.24 L196.62,384.12 L196.84,383.71 L197.06,385.78 L197.28,384.94 L197.40,384.06 L197.60,390.00 L198.00,386.92 L198.60,385.52 L199.40,384.85 L199.60,383.58 L199.82,382.18 L200.04,385.71 L200.26,383.39 L200.48,385.98 L200.70,381.51 L200.92,384.98 L201.14,384.29 L201.36,383.44 L201.58,382.32 L201.80,383.73 L202.02,384.61 L202.24,385.43 L202.46,382.83 L202.68,385.55 L202.90,383.31 L203.12,386.30 L203.34,384.57 L203.56,386.31 L203.78,383.74 L204.00,386.16 L204.22,384.21 L204.44,386.57 L204.66,381.56 L204.88,385.75 L205.10,383.48 L205.32,385.56 L205.54,383.15 L205.76,385.33 L205.98,383.89 L206.10,383.58 L206.30,397.60 L206.70,390.34 L207.30,387.04 L208.10,385.46 L208.30,384.80 L208.52,385.65 L208.74,383.35 L208.96,383.88 L209.18,384.23 L209.40,384.18 L209.62,382.31 L209.84,386.30 L210.06,384.81 L210.28,385.13 L210.50,383.42 L210.72,385.75 L210.94,384.63 L211.16,384.87 L211.38,382.60 L211.60,386.51 L211.82,382.27 L212.04,384.95 L212.26,384.27 L212.48,385.75 L212.70,382.83 L212.92,385.75 L213.14,384.17 L213.20,384.72 L213.40,394.50 L213.80,388.94 L214.40,386.42 L215.20,385.21 L215.40,384.68 L215.62,383.03 L215.84,383.79 L216.06,383.10 L216.28,383.76 L216.50,383.37" fill="none" stroke="#f0474d" stroke-width="1.2" stroke-linejoin="round"/>
<path d="M228.10,385.64 L228.32,384.64 L228.54,383.69 L228.76,385.45 L228.98,384.14 L229.20,383.90 L229.42,382.89 L229.64,384.55 L229.86,382.23 L230.08,384.46 L230.30,382.79 L230.52,385.01 L230.74,382.39 L230.96,385.72 L231.18,382.75 L231.40,382.50 L231.62,384.49 L231.84,384.91 L232.06,382.56 L232.28,385.57 L232.50,383.53 L232.72,385.35 L232.94,382.45 L233.16,385.49 L233.38,381.76 L233.60,386.74 L233.82,382.03 L234.04,385.09 L234.26,383.32 L234.48,385.52 L234.70,383.05 L234.92,385.78 L235.14,380.50 L235.36,385.07 L235.58,383.01 L235.80,384.74 L236.02,384.70 L236.24,384.19 L236.46,383.09 L236.68,383.13 L236.90,383.44 L237.12,383.54 L237.34,381.59 L237.56,387.54 L237.78,383.88 L238.00,385.16 L238.22,383.34 L238.44,383.72 L238.66,382.11 L238.88,385.60 L239.10,381.03 L239.32,385.44 L239.54,381.41 L239.76,385.29 L239.98,382.04 L240.20,386.94 L240.42,384.20 L240.64,384.64 L240.86,381.25 L241.08,384.37 L241.30,383.11 L241.52,384.16 L241.74,383.46 L241.96,386.17 L242.18,383.11 L242.40,384.73 L242.62,383.96 L242.84,384.87 L243.06,384.03 L243.28,384.85 L243.50,384.81 L243.72,384.89 L243.94,382.09 L244.16,385.27 L244.38,382.53 L244.60,384.22 L244.82,383.04 L245.04,385.93 L245.26,380.97 L245.48,385.13 L245.70,383.02 L245.92,385.02 L246.14,383.99 L246.36,383.85 L246.58,383.85 L246.80,384.94 L247.02,383.29 L247.24,384.95 L247.46,382.84 L247.68,384.65 L247.90,383.60 L248.12,387.32 L248.34,384.25 L248.56,386.05 L248.78,383.76 L249.00,384.70 L249.22,383.81 L249.44,387.30 L249.60,384.15 L249.80,399.90 L250.20,391.32 L250.80,387.42 L251.60,385.55 L251.80,383.25 L252.02,385.05 L252.24,382.90 L252.46,385.77 L252.68,383.11 L252.90,384.93 L253.12,383.52 L253.34,385.24 L253.56,383.27 L253.78,385.09 L254.00,383.23 L254.22,387.13 L254.44,383.65 L254.66,385.83 L254.88,382.95 L255.10,384.38 L255.32,386.10 L255.54,386.11 L255.76,383.46 L255.98,385.52 L256.20,382.53 L256.42,386.45 L256.64,383.28 L256.86,384.81 L257.08,383.17 L257.30,385.51 L257.52,381.68 L257.74,385.84 L257.96,383.16 L258.18,383.15 L258.40,383.37 L258.62,383.31 L258.84,382.99 L259.06,384.21 L259.28,383.53 L259.50,386.75 L259.72,383.11 L259.94,385.72 L260.16,381.37 L260.38,385.96 L260.60,384.22 L260.82,386.25 L261.04,382.36 L261.26,386.05 L261.48,384.87 L261.70,387.29 L261.92,383.22 L262.14,386.66 L262.36,383.13 L262.58,385.39 L262.80,382.79 L263.02,385.10 L263.24,383.54 L263.46,385.39 L263.68,383.54 L263.90,385.68 L264.12,382.51 L264.34,384.41 L264.56,385.62 L264.78,385.06 L265.00,384.03 L265.22,385.27 L265.44,382.59 L265.66,385.56 L265.88,382.12 L266.10,384.54 L266.32,383.79 L266.54,383.81 L266.76,383.26 L266.98,386.35 L267.20,383.20 L267.42,385.28 L267.64,384.30 L267.86,385.53 L268.08,384.53 L268.30,386.33 L268.52,383.33 L268.74,385.76 L268.96,383.60 L269.18,385.96 L269.40,383.55 L269.62,386.49 L269.84,382.46 L270.06,385.49 L270.28,382.87 L270.50,384.76 L270.72,385.44 L270.94,383.88 L271.16,383.16 L271.38,384.24 L271.60,381.98 L271.82,385.20 L272.04,384.29 L272.26,385.63 L272.48,382.68 L272.70,385.20 L272.92,384.80 L273.14,386.30 L273.36,382.49 L273.58,386.20 L273.80,384.51 L274.02,384.65 L274.24,382.59 L274.46,388.08 L274.68,383.16 L274.90,385.44 L275.12,383.12 L275.34,384.88 L275.56,382.64 L275.78,387.10 L276.00,383.22 L276.22,385.14 L276.44,382.32 L276.66,385.61 L276.88,382.62 L277.10,385.36 L277.32,382.97 L277.54,385.09 L277.76,383.09 L277.98,386.24 L278.20,383.67 L278.42,385.14 L278.64,383.32 L278.86,384.65 L279.08,382.40 L279.30,384.87 L279.52,381.67 L279.74,385.68 L279.96,382.90 L280.18,385.61 L280.40,383.60 L280.62,385.58 L280.84,384.14 L281.06,384.14 L281.28,384.79 L281.50,384.91 L281.72,384.75 L281.94,385.53 L282.16,383.57 L282.38,383.72 L282.60,382.36 L282.82,385.31 L283.04,381.57 L283.26,385.78 L283.48,383.15 L283.70,386.51 L283.92,380.84 L284.14,385.65 L284.36,384.08 L284.58,383.11 L284.80,383.73 L285.02,384.58 L285.24,383.43 L285.46,386.45 L285.68,383.24 L285.90,386.35 L286.12,382.34 L286.34,383.28 L286.56,381.72 L286.78,384.35 L287.00,384.07 L287.22,385.83 L287.44,383.86 L287.66,385.29 L287.88,382.98 L288.10,385.49 L288.32,385.12 L288.54,386.40 L288.76,384.74 L288.98,385.20 L289.20,383.88 L289.42,385.91 L289.64,383.47 L289.86,386.78 L290.08,382.85 L290.30,384.32 L290.52,382.82 L290.74,385.23 L290.96,380.93 L291.18,384.68 L291.30,384.81 L291.50,392.70 L291.90,388.08 L292.50,385.98 L293.30,384.97 L293.50,384.29 L293.72,385.98 L293.94,383.13 L294.16,384.55 L294.38,384.18 L294.60,384.62 L294.82,383.01 L295.04,384.33 L295.26,385.05 L295.48,385.25 L295.70,382.80 L295.92,385.05 L296.14,383.07 L296.36,385.39 L296.58,381.59 L296.80,384.14 L297.02,383.81 L297.24,386.38 L297.46,382.29 L297.68,385.41 L297.90,382.72 L298.12,383.02 L298.34,382.99 L298.56,384.21 L298.78,384.17 L299.00,385.09 L299.22,383.26 L299.44,383.83 L299.66,383.44 L299.88,383.35 L300.10,383.52 L300.32,386.68 L300.54,382.09 L300.76,386.15 L300.98,384.70 L301.20,385.10 L301.42,384.41 L301.64,385.38 L301.86,382.80 L302.08,383.29 L302.30,382.22 L302.52,383.81 L302.74,385.68 L302.96,385.56 L303.18,383.12 L303.40,383.95 L303.62,385.02 L303.84,384.14 L304.06,384.78 L304.28,386.39 L304.50,383.37 L304.72,384.64 L304.94,383.25 L305.16,383.97 L305.38,383.95 L305.60,386.99 L305.82,384.19 L306.04,386.35 L306.26,382.60 L306.48,385.61 L306.70,382.27 L306.92,384.85 L307.14,384.03 L307.36,387.81 L307.58,383.37 L307.80,385.33 L308.02,381.40 L308.24,385.47 L308.46,382.39 L308.68,383.89 L308.90,381.81 L309.12,385.44 L309.34,382.90 L309.56,385.98 L309.78,383.06 L310.00,385.30 L310.22,384.77 L310.44,386.11 L310.66,384.07 L310.88,386.78 L311.10,383.52 L311.32,384.31 L311.54,382.50 L311.76,383.73 L311.98,383.65 L312.20,384.89 L312.42,383.81 L312.64,386.14 L312.86,382.48 L313.08,385.48 L313.30,384.57 L313.52,385.38 L313.70,385.23 L313.90,390.70 L314.30,387.18 L314.90,385.58 L315.70,384.81 L315.90,384.47 L316.12,384.22 L316.34,384.50 L316.56,384.03 L316.78,385.89 L317.00,382.68 L317.22,384.62 L317.44,382.37 L317.66,383.15 L317.88,382.77 L318.10,386.95 L318.32,384.16 L318.54,384.82 L318.76,384.66 L318.98,385.71 L319.20,381.90 L319.42,383.80 L319.64,384.49 L319.86,386.48 L320.08,384.08 L320.30,384.35 L320.52,384.08 L320.74,386.36 L320.96,381.86 L321.18,384.71 L321.40,382.68 L321.62,385.42 L321.84,384.40 L322.06,385.39 L322.28,384.10 L322.50,385.77 L322.72,383.17 L322.94,385.71 L323.16,382.41 L323.38,384.72 L323.60,383.96 L323.82,386.28 L324.04,383.82 L324.26,385.84 L324.48,384.23 L324.70,384.75 L324.92,385.35 L325.14,386.25 L325.36,382.79 L325.58,383.83 L325.80,381.53 L326.02,385.09 L326.24,383.71 L326.46,385.35 L326.68,383.95 L326.90,384.88 L327.12,382.43 L327.34,384.20 L327.56,384.70 L327.78,385.49 L328.00,385.11 L328.22,384.62 L328.44,382.55 L328.66,385.71 L328.88,382.48 L329.10,386.95 L329.32,381.72 L329.54,383.77 L329.76,383.27 L329.98,386.86 L330.20,382.78 L330.42,385.31 L330.64,381.28 L330.86,386.84 L331.08,382.64 L331.30,386.12 L331.52,383.19 L331.74,384.23 L331.96,382.26 L332.18,384.63 L332.40,384.04 L332.62,386.45 L332.84,385.54 L333.06,384.61 L333.28,384.20 L333.50,385.80 L333.72,382.90 L333.94,385.81 L334.16,383.17 L334.38,386.22 L334.60,383.46 L334.82,383.88 L335.04,385.03 L335.26,386.56 L335.48,382.17 L335.70,384.15 L335.92,383.79 L336.14,385.46 L336.36,385.19 L336.58,384.67 L336.80,383.82 L337.02,384.93 L337.24,382.86 L337.46,384.38 L337.68,385.39 L337.90,385.76 L338.12,383.61 L338.34,385.52 L338.56,384.03 L338.78,384.63 L339.00,383.66 L339.22,384.89 L339.44,383.93 L339.66,385.39 L339.88,384.67 L340.10,384.80 L340.32,384.13 L340.54,385.34 L340.76,382.95 L340.98,386.50 L341.20,384.83 L341.42,383.73 L341.64,384.04 L341.86,386.12 L342.08,384.20 L342.30,385.81 L342.52,382.55 L342.74,385.46 L342.96,381.94 L343.18,382.58 L343.40,385.42 L343.62,384.42 L343.84,384.01 L344.06,384.66 L344.28,382.70 L344.50,386.01 L344.72,382.15 L344.94,384.24 L345.16,382.65 L345.38,388.10 L345.60,383.02 L345.82,385.89 L346.04,382.37 L346.26,384.26 L346.48,383.94 L346.70,385.76 L346.92,383.44 L347.14,385.82 L347.36,383.28 L347.58,386.69 L347.80,382.72 L348.02,385.65 L348.24,383.10 L348.46,384.69 L348.68,384.98 L348.90,385.77 L349.12,383.33 L349.34,384.94 L349.56,383.80 L349.78,386.20 L350.00,384.49 L350.22,387.53 L350.44,384.76 L350.66,385.11 L350.88,383.04 L351.10,385.90 L351.32,382.86 L351.54,384.03 L351.76,383.45 L351.98,386.06 L352.20,384.20 L352.42,385.92 L352.64,383.55 L352.86,386.92 L353.08,382.39 L353.30,383.80 L353.52,383.08 L353.74,385.69 L353.96,382.91 L354.18,384.77 L354.40,383.33 L354.62,385.66 L354.84,383.62 L355.06,385.38 L355.28,383.62 L355.50,385.51 L355.72,384.25 L355.94,383.88 L356.16,381.92 L356.38,386.61 L356.60,382.40 L356.82,383.07 L357.04,383.20 L357.26,385.55 L357.48,383.70 L357.70,385.88 L357.92,382.02 L358.14,385.54 L358.36,384.24 L358.58,384.99 L358.80,384.32 L359.02,384.39 L359.24,383.74 L359.46,385.84 L359.68,381.55 L359.90,384.25 L360.12,382.87 L360.34,384.93 L360.56,384.96 L360.78,386.02 L361.00,383.24 L361.22,384.85 L361.44,381.82 L361.66,385.16 L361.88,383.09 L362.10,384.66 L362.32,383.09 L362.54,385.75 L362.76,384.54 L362.98,384.44 L363.20,382.19 L363.42,385.22 L363.64,381.74 L363.86,384.99 L364.08,383.35 L364.30,385.56 L364.50,384.97 L364.70,388.00 L365.10,385.97 L365.70,385.04 L366.50,384.60 L366.70,381.46 L366.92,385.07 L367.14,383.14 L367.36,385.46 L367.58,383.75 L367.80,384.48 L368.02,382.36 L368.24,386.27 L368.46,385.60 L368.68,387.42 L368.90,383.00 L369.12,384.49 L369.34,383.49 L369.56,385.78 L369.78,385.10 L370.00,385.06 L370.22,382.53 L370.44,386.36 L370.66,382.55 L370.88,384.42 L371.10,383.84 L371.32,385.10 L371.54,382.22 L371.76,385.02 L371.98,382.87 L372.20,385.06 L372.42,382.54 L372.64,385.89 L372.86,382.93 L373.08,384.68 L373.30,384.38 L373.52,384.35 L373.74,384.06 L373.96,385.89 L374.18,382.99 L374.40,385.51 L374.62,381.78 L374.84,385.55 L375.06,382.24 L375.28,384.42 L375.50,383.56 L375.72,384.54 L375.94,383.43 L376.16,385.71 L376.38,384.36 L376.60,385.70 L376.82,384.35 L377.04,384.53 L377.26,382.92 L377.48,385.95 L377.70,384.50 L377.92,385.75 L378.14,382.75 L378.36,384.20 L378.58,382.33 L378.80,386.43 L379.02,382.30 L379.24,385.06 L379.46,383.94 L379.68,385.74 L379.90,382.58 L380.12,387.32 L380.34,383.46 L380.56,385.58 L380.78,384.12 L381.00,384.98 L381.22,384.00 L381.44,385.15 L381.66,382.40 L381.88,384.33 L382.10,384.97 L382.30,396.80 L382.70,389.93 L383.30,386.80 L384.10,385.30 L384.30,383.68 L384.52,386.61 L384.74,383.45 L384.96,385.69 L385.18,383.72 L385.40,384.54 L385.62,382.70 L385.84,386.52 L386.06,383.83 L386.28,386.54 L386.50,382.56 L386.72,383.50 L386.94,383.35 L387.16,385.79 L387.38,383.01 L387.60,384.51 L387.82,385.76 L388.04,385.90 L388.26,383.00 L388.48,384.72 L388.70,381.35 L388.92,383.99 L389.14,382.46 L389.36,384.58 L389.58,383.19 L389.80,385.38 L390.02,383.65 L390.24,385.02 L390.46,382.83 L390.68,384.58 L390.90,382.61 L391.12,382.86 L391.34,384.34 L391.56,384.42 L391.78,384.01 L392.00,384.79 L392.22,383.78 L392.44,385.50 L392.66,384.52 L392.88,385.48 L393.10,382.90 L393.32,386.71 L393.54,382.80 L393.76,386.78 L393.98,383.82 L394.20,384.32 L394.42,384.00 L394.64,386.26 L394.86,384.01 L395.08,383.57 L395.30,383.08 L395.52,383.94 L395.74,382.54 L395.96,385.23 L396.18,382.60 L396.40,386.43 L396.62,383.48 L396.84,385.68 L397.06,383.70 L397.28,384.76 L397.50,384.42 L397.72,384.22 L397.94,382.34 L398.16,385.73 L398.38,383.14 L398.60,384.90 L398.82,383.15 L399.04,384.78 L399.26,382.36 L399.48,385.85 L399.70,383.97 L399.92,384.70 L400.14,382.34 L400.36,386.18 L400.58,382.98 L400.80,384.09 L401.02,385.21 L401.24,384.93 L401.46,383.01 L401.68,385.50 L401.90,382.37 L402.12,386.64 L402.34,382.84 L402.56,386.02 L402.78,381.30 L403.00,382.69 L403.22,383.15 L403.44,386.20 L403.66,383.45 L403.88,385.37 L404.10,383.19 L404.32,383.53 L404.54,380.50 L404.76,384.87 L404.98,381.36 L405.20,386.40 L405.42,383.88 L405.64,384.47 L405.86,382.62 L406.08,383.75 L406.30,384.16 L406.52,385.46 L406.74,383.56 L406.96,383.13 L407.18,381.86 L407.40,386.00 L407.62,381.98 L407.70,383.89 L407.90,393.00 L408.30,388.22 L408.90,386.04 L409.70,385.00 L409.90,385.54 L410.12,383.14 L410.34,385.34 L410.56,385.06 L410.78,386.10 L411.00,382.68 L411.22,385.71 L411.44,383.04 L411.66,384.99 L411.88,383.09 L412.10,385.37 L412.32,383.95 L412.54,386.32 L412.76,383.34 L412.98,384.49 L413.20,383.30 L413.42,385.11 L413.64,383.03 L413.86,384.08 L414.08,383.17 L414.30,383.48 L414.52,384.57 L414.74,386.04 L414.96,384.05 L415.18,384.36 L415.40,383.54 L415.62,386.58 L415.84,383.09 L416.06,384.23 L416.28,383.19" fill="none" stroke="#45a9b5" stroke-width="1.2" stroke-linejoin="round"/>
<path d="M423.80,383.69 L424.02,386.85 L424.24,382.67 L424.30,384.85 L424.50,396.80 L424.90,390.09 L425.50,387.04 L426.30,385.58 L426.50,384.59 L426.72,385.75 L426.94,383.67 L427.16,386.00 L427.38,382.94 L427.60,385.92 L427.82,386.40 L428.04,383.73 L428.26,383.95 L428.48,384.19 L428.70,383.81 L428.92,386.43 L429.14,384.75 L429.36,386.42 L429.58,382.70 L429.80,385.52 L430.02,382.11 L430.24,387.15 L430.46,384.26 L430.68,384.89 L430.90,383.14 L431.12,387.57 L431.34,383.99 L431.56,384.03 L431.78,383.87 L432.00,386.75 L432.22,382.51 L432.44,386.48 L432.66,383.12 L432.88,385.94 L433.10,382.57 L433.32,387.49 L433.54,382.79 L433.76,386.04 L433.98,383.91 L434.20,386.13 L434.42,386.14 L434.64,384.31 L434.86,384.15 L435.08,385.23 L435.30,384.73 L435.52,384.90 L435.74,384.21 L435.96,384.46 L436.18,382.93 L436.40,386.85 L436.62,382.74 L436.84,387.38 L437.06,382.75 L437.28,387.09 L437.50,383.52 L437.72,386.63 L437.94,385.30 L438.16,387.71 L438.38,383.12 L438.60,384.16 L438.82,382.93 L439.04,386.06 L439.26,385.43 L439.48,384.87 L439.70,383.23 L439.92,387.41 L440.14,384.36 L440.36,386.03 L440.58,383.57 L440.80,385.92 L441.02,382.62 L441.24,386.09 L441.46,384.28 L441.68,385.84 L441.90,381.58 L442.12,386.93 L442.34,383.98 L442.56,387.13 L442.78,384.04 L443.00,384.60 L443.22,385.40 L443.44,386.78 L443.66,383.46 L443.88,386.46 L444.10,383.59 L444.32,386.80 L444.54,384.23 L444.76,386.25 L444.98,383.73 L445.20,384.45 L445.42,384.35 L445.64,385.76 L445.86,383.84 L446.08,386.19 L446.30,382.96 L446.52,387.66 L446.74,383.05 L446.96,384.80 L447.18,384.37 L447.40,384.17 L447.62,383.42 L447.84,384.54 L448.06,382.88 L448.28,383.87 L448.50,381.97 L448.72,384.54 L448.94,383.55 L449.16,385.46 L449.38,382.88 L449.60,384.73 L449.82,386.22 L450.04,384.35 L450.26,383.43 L450.48,386.63 L450.70,383.67 L450.92,385.42 L451.14,383.50 L451.36,384.54 L451.58,382.66 L451.80,386.91 L452.02,384.12 L452.24,384.13 L452.46,383.92 L452.68,384.66 L452.90,384.85 L453.12,385.58 L453.34,383.39 L453.56,386.99 L453.78,384.16 L454.00,386.34 L454.22,383.43 L454.44,384.31 L454.66,383.96 L454.88,385.19 L455.10,384.46 L455.32,385.23 L455.54,384.49 L455.76,384.90 L455.98,383.12 L456.20,384.37 L456.42,384.80 L456.64,386.88 L456.86,383.82 L457.08,385.52 L457.30,382.74 L457.52,385.91 L457.74,385.38 L457.96,385.65 L458.18,384.24 L458.40,384.18 L458.62,384.21 L458.84,386.31 L459.06,384.13 L459.28,384.65 L459.50,385.24 L459.72,383.78 L459.94,384.34 L460.16,386.04 L460.38,384.39 L460.60,384.38 L460.82,381.92 L461.04,384.92 L461.26,383.82 L461.48,386.49 L461.70,384.45 L461.92,386.26 L462.14,385.29 L462.36,385.94 L462.58,383.06 L462.80,385.28 L463.02,385.39 L463.24,384.46 L463.46,382.19 L463.68,385.30 L463.90,384.04 L464.12,385.14 L464.34,385.32 L464.56,385.48 L464.78,384.51 L465.00,384.70 L465.22,384.12 L465.44,383.70 L465.66,384.81 L465.88,385.65 L466.10,383.68 L466.32,387.53 L466.54,382.88 L466.76,386.66 L466.98,383.51 L467.20,387.78 L467.42,382.89 L467.64,385.89 L467.86,385.23 L468.08,386.36 L468.30,382.34 L468.52,384.78 L468.74,383.50 L468.96,385.21 L469.18,384.20 L469.30,383.74 L469.50,407.60 L469.90,394.95 L470.50,389.20 L471.30,386.44 L471.50,384.90 L471.72,383.17 L471.94,385.71 L472.16,383.32 L472.38,386.86 L472.60,382.72 L472.82,387.49 L473.04,382.62 L473.26,386.66 L473.48,382.83 L473.70,387.25 L473.92,383.74 L474.14,386.00 L474.36,384.34 L474.58,384.97 L474.80,382.56 L475.02,383.57 L475.24,384.82 L475.46,384.90 L475.68,383.01 L475.90,385.57 L476.12,385.59 L476.34,383.87 L476.56,383.85 L476.78,385.20 L477.00,384.13 L477.22,383.80 L477.44,383.20 L477.66,386.44 L477.88,385.16 L478.10,387.20 L478.32,382.75 L478.54,385.65 L478.76,383.49 L478.98,384.22 L479.20,382.16 L479.42,386.36 L479.64,383.85 L479.86,385.46 L480.08,384.82 L480.30,384.60 L480.52,384.13 L480.74,385.61 L480.96,383.54 L481.18,386.09 L481.40,383.78 L481.62,385.87 L481.84,383.87 L482.06,387.54 L482.28,383.29 L482.50,386.61 L482.72,384.21 L482.94,385.25 L483.16,384.40 L483.38,384.74 L483.60,384.76 L483.82,384.79 L484.04,383.11 L484.26,385.92 L484.48,384.43 L484.70,386.51 L484.92,384.49 L485.14,385.39 L485.36,382.64 L485.58,386.15 L485.80,383.90 L486.02,384.65 L486.24,384.57 L486.46,385.80 L486.68,382.64 L486.90,386.04 L487.12,382.27 L487.34,384.72 L487.56,384.00 L487.78,384.04 L488.00,383.64 L488.22,384.25 L488.44,384.34 L488.66,384.87 L488.88,383.78 L489.10,384.10 L489.32,383.26 L489.54,386.55 L489.76,384.06 L489.98,383.76 L490.20,384.52 L490.42,386.49 L490.64,383.22 L490.86,387.02 L491.08,382.54 L491.30,385.51 L491.52,384.71 L491.74,386.91 L491.96,384.88 L492.18,384.51 L492.40,381.82 L492.62,385.99 L492.84,382.17 L493.06,385.47 L493.28,382.32 L493.50,386.66 L493.72,384.40 L493.94,386.16 L494.16,383.62 L494.38,385.65 L494.60,383.30 L494.82,385.98 L495.04,383.85 L495.26,386.06 L495.48,383.17 L495.70,387.50 L495.92,383.88 L496.14,386.99 L496.36,384.93 L496.58,384.72 L496.80,381.91 L497.02,386.86 L497.24,383.21 L497.46,385.68 L497.68,383.34 L497.90,385.73 L498.12,382.41 L498.34,385.50 L498.56,383.14 L498.78,385.58 L499.00,381.26 L499.22,386.42 L499.44,383.93 L499.66,383.87 L499.88,382.87 L500.10,385.63 L500.32,384.23 L500.54,385.60 L500.76,384.98 L500.98,385.62 L501.20,382.60 L501.42,384.92 L501.64,384.34 L501.86,384.99 L502.08,384.44 L502.30,386.62 L502.52,384.19 L502.74,386.62 L502.96,383.43 L503.18,385.59 L503.40,383.01 L503.62,384.99 L503.84,382.03 L504.06,385.04 L504.28,382.53 L504.50,384.17 L504.72,383.75 L504.94,386.05 L505.16,383.26 L505.38,386.97 L505.60,384.54 L505.82,386.64 L506.04,383.00 L506.26,384.11 L506.48,384.16 L506.70,385.91 L506.92,384.33 L507.14,386.02 L507.36,384.86 L507.58,385.31 L507.80,384.27 L508.02,384.70 L508.24,381.29 L508.46,385.16 L508.68,385.10 L508.90,383.92 L509.12,384.62 L509.34,384.92 L509.56,383.20 L509.78,385.64 L510.00,383.81 L510.22,384.63 L510.44,383.73 L510.66,386.04 L510.88,384.43 L511.10,384.85 L511.32,385.15 L511.54,387.51 L511.76,386.02 L511.98,384.26 L512.20,383.77 L512.42,383.74 L512.64,383.98 L512.86,386.16 L513.08,382.45 L513.30,384.01 L513.52,383.79 L513.74,386.23 L513.96,382.81 L514.18,385.34 L514.40,381.07 L514.62,384.89 L514.84,383.75 L515.06,385.75 L515.28,385.18 L515.50,384.46 L515.72,381.35 L515.94,386.05 L516.16,383.01 L516.38,385.89 L516.60,384.32 L516.82,386.20 L517.04,385.04 L517.26,386.95 L517.48,381.94 L517.70,385.54 L517.92,385.60 L518.14,385.19 L518.36,384.57 L518.58,385.54 L518.80,383.18 L519.02,387.18 L519.24,384.64 L519.46,385.36 L519.68,384.51 L519.90,384.29 L520.10,383.61 L520.30,411.40 L520.70,396.66 L521.30,389.96 L522.10,386.74 L522.30,382.87 L522.52,385.06 L522.74,384.52 L522.96,384.92 L523.18,383.66 L523.40,383.45 L523.62,382.33 L523.84,384.63 L524.06,384.39 L524.28,386.19 L524.50,384.15 L524.72,385.35 L524.94,383.18 L525.16,387.26 L525.38,382.18 L525.60,387.55 L525.82,384.96 L526.04,384.39 L526.26,384.82 L526.48,385.64 L526.70,382.76 L526.92,384.95 L527.14,382.30 L527.36,385.87 L527.58,382.86 L527.80,385.67 L528.02,381.05 L528.24,385.02 L528.46,382.50 L528.68,386.48 L528.90,384.36 L529.12,384.65 L529.34,384.87 L529.56,385.04 L529.78,382.44 L530.00,386.20 L530.22,384.91 L530.44,385.17 L530.66,383.14 L530.88,386.72 L531.10,382.67 L531.32,387.26 L531.54,385.22 L531.76,386.17 L531.98,384.30 L532.20,385.35 L532.42,382.27 L532.64,384.24 L532.86,383.11 L533.08,384.76 L533.30,383.83 L533.52,385.77 L533.74,383.94 L533.96,385.24 L534.18,381.96 L534.40,384.02 L534.62,383.16 L534.84,385.10 L535.06,384.21 L535.28,384.09 L535.50,384.96 L535.72,386.74 L535.94,383.91 L536.16,385.63 L536.38,385.31 L536.60,385.05 L536.82,384.31 L537.04,384.57 L537.26,384.31 L537.48,385.73 L537.70,382.68 L537.92,385.88 L538.14,383.20 L538.36,385.54 L538.58,384.05 L538.80,386.92 L539.02,384.73 L539.24,385.51 L539.46,382.97 L539.68,385.99 L539.90,384.56 L540.12,385.52 L540.30,385.10 L540.50,390.00 L540.90,387.03 L541.50,385.68 L542.30,385.03 L542.50,383.76 L542.72,383.13 L542.94,385.29 L543.16,383.07 L543.38,385.99 L543.60,382.32 L543.82,385.38 L544.04,383.83 L544.26,386.32 L544.48,383.65 L544.70,385.36 L544.92,384.29 L545.14,383.61 L545.36,384.53 L545.58,385.29 L545.80,382.35 L546.02,385.17 L546.24,381.77 L546.46,383.56 L546.68,383.27 L546.90,384.82 L547.12,384.33 L547.34,384.71 L547.56,382.30 L547.78,384.64 L548.00,385.32 L548.22,385.63 L548.44,382.99 L548.66,384.61 L548.88,382.50 L549.10,385.44 L549.32,384.03 L549.54,386.75 L549.76,384.75 L549.98,385.87 L550.20,382.94 L550.42,384.74 L550.64,381.29 L550.86,384.58 L551.08,384.02 L551.30,385.26 L551.52,383.97 L551.74,384.25 L551.96,384.50 L552.18,385.90 L552.40,383.64 L552.62,386.00 L552.84,381.36 L553.06,385.04 L553.28,382.70 L553.50,387.41 L553.72,383.42 L553.94,385.09 L554.16,384.45 L554.38,384.55 L554.60,385.02 L554.82,384.90 L555.04,383.54 L555.26,384.68 L555.48,384.41 L555.70,383.43 L555.92,384.29 L556.14,384.78 L556.36,383.65 L556.58,384.45 L556.80,383.83 L557.02,385.79 L557.24,384.19 L557.46,385.91 L557.68,384.22 L557.90,386.59 L558.12,383.21 L558.34,384.42 L558.56,382.32 L558.78,386.28 L559.00,383.22 L559.10,385.11 L559.30,413.70 L559.70,397.69 L560.30,390.42 L561.10,386.93 L561.30,386.65 L561.52,383.09 L561.74,385.97 L561.96,384.89 L562.18,384.66 L562.40,382.95 L562.62,386.31 L562.84,382.28 L563.06,385.35 L563.28,383.61 L563.50,385.67 L563.72,384.05 L563.94,387.29 L564.16,384.29 L564.38,386.47 L564.60,383.83 L564.82,386.25 L565.04,384.09 L565.26,386.49 L565.48,383.72 L565.70,385.81 L565.92,384.07 L566.14,385.99 L566.36,383.25 L566.58,385.62 L566.80,384.68 L567.02,385.75 L567.24,382.30 L567.46,386.45 L567.68,384.56 L567.90,385.92 L568.12,383.41 L568.34,385.74 L568.56,384.29 L568.78,385.45 L569.00,384.54 L569.22,386.23 L569.44,384.31 L569.66,386.80 L569.88,383.31 L570.10,386.02 L570.32,385.13 L570.54,386.12 L570.76,383.32 L570.98,387.34 L571.20,381.33 L571.42,386.10 L571.64,383.36 L571.86,386.32 L572.08,383.42 L572.30,387.43 L572.52,382.97 L572.74,384.93 L572.96,384.86 L573.18,386.44 L573.40,384.91 L573.62,385.34 L573.84,383.85 L574.06,385.61 L574.28,384.11 L574.50,385.93 L574.72,383.92 L574.94,385.68 L575.16,382.39 L575.38,383.83 L575.60,384.42 L575.82,388.17 L576.04,381.81 L576.26,385.86 L576.48,385.66 L576.70,384.42 L576.92,384.43 L577.14,385.78 L577.36,381.71 L577.58,384.09 L577.80,384.31 L578.02,386.04 L578.24,383.89 L578.46,385.20 L578.60,384.38 L578.80,395.30 L579.20,389.42 L579.80,386.74 L580.60,385.46 L580.80,382.84 L581.02,386.90 L581.24,384.16 L581.46,385.33 L581.68,383.50 L581.90,383.98 L582.12,384.25 L582.34,384.51 L582.56,384.44 L582.78,385.16 L583.00,382.98 L583.22,385.97 L583.44,383.81 L583.66,384.47 L583.88,383.53 L584.10,386.21 L584.32,383.35 L584.54,384.26 L584.76,383.36 L584.98,384.64 L585.20,383.02 L585.42,385.65 L585.64,383.55 L585.86,385.39 L586.08,381.95 L586.30,384.95 L586.50,398.40 L586.90,390.81 L587.50,387.36 L588.30,385.70 L588.50,385.95 L588.72,384.20 L588.94,386.02 L589.16,384.40 L589.38,384.41 L589.60,385.07 L589.82,384.20 L590.04,381.57 L590.26,386.26 L590.48,383.50 L590.70,384.70 L590.92,383.34 L591.14,385.88 L591.36,381.59 L591.58,387.08 L591.80,384.63 L592.02,386.40 L592.24,383.92 L592.46,385.86 L592.68,383.16 L592.90,385.00 L593.12,384.15 L593.34,385.77 L593.56,382.78 L593.78,384.55 L594.00,384.32 L594.22,385.65 L594.44,384.29 L594.66,385.46 L594.88,382.64 L595.10,385.20 L595.32,383.86 L595.54,384.26 L595.76,383.90 L595.98,384.40 L596.20,383.84 L596.42,386.18 L596.64,385.24 L596.86,386.49 L597.08,383.77 L597.30,385.74 L597.52,384.25 L597.74,385.46 L597.96,383.93 L598.18,385.34 L598.40,382.91 L598.62,385.75 L598.84,384.26 L599.06,384.39 L599.28,382.54 L599.50,384.28 L599.72,384.24 L599.94,384.93 L600.16,382.73 L600.38,384.94 L600.60,385.06 L600.82,386.82 L601.04,382.08 L601.26,384.57 L601.48,383.94 L601.70,386.80 L601.92,382.03 L602.14,385.96 L602.36,384.42 L602.58,386.03 L602.70,384.57 L602.90,395.30 L603.30,389.42 L603.90,386.74 L604.70,385.46 L604.90,386.74 L605.12,384.15 L605.34,385.50 L605.56,382.56 L605.70,384.90 L605.90,394.50 L606.30,389.06 L606.90,386.58 L607.70,385.39 L607.90,385.05 L608.12,383.17 L608.34,383.65 L608.56,386.27 L608.78,385.06 L609.00,384.51 L609.22,386.21 L609.44,383.95 L609.66,386.77 L609.88,385.59 L610.10,385.30 L610.32,381.58 L610.54,386.97 L610.76,383.48 L610.98,386.73 L611.20,383.08 L611.42,383.48 L611.64,384.79 L611.86,387.61" fill="none" stroke="#ec3192" stroke-width="1.2" stroke-linejoin="round"/>
<text x="28.5" y="372.6" font-family="Liberation Sans" font-size="14" font-weight="bold" text-anchor="start" fill="#f0474d" letter-spacing="1.0">CCI</text>
<text x="224.0" y="371.2" font-family="Liberation Sans" font-size="14" font-weight="bold" text-anchor="start" fill="#45a9b5" letter-spacing="0.6">i<tspan font-weight="normal">β</tspan>&#8201;ARK</text>
<text x="421.8" y="370.0" font-family="Liberation Sans" font-size="14" font-weight="bold" text-anchor="start" fill="#ec3192" letter-spacing="0.5">mCherry</text>
<polyline points="593.50,403.00 593.50,417.00 610.70,417.00" fill="none" stroke="#1c1a1b" stroke-width="1.6" stroke-linejoin="miter" />
<text x="599.5" y="410.5" font-family="Liberation Sans" font-size="11" font-weight="bold" text-anchor="start" fill="#1c1a1b" >20 pA</text>
<text x="595.0" y="438.5" font-family="Liberation Sans" font-size="11" font-weight="bold" text-anchor="start" fill="#1c1a1b" >400 ms</text>
<line x1="323.40" y1="464.00" x2="323.40" y2="661.80" stroke="#1c1a1b" stroke-width="1.7" />
<line x1="323.40" y1="661.00" x2="619.40" y2="661.00" stroke="#1c1a1b" stroke-width="1.7" />
<line x1="314.90" y1="661.00" x2="323.40" y2="661.00" stroke="#1c1a1b" stroke-width="1.7" />
<text x="311.9" y="666.3" font-family="Liberation Sans" font-size="14.9" font-weight="bold" text-anchor="end" fill="#1c1a1b" >0</text>
<line x1="314.90" y1="562.50" x2="323.40" y2="562.50" stroke="#1c1a1b" stroke-width="1.7" />
<text x="311.9" y="567.8" font-family="Liberation Sans" font-size="14.9" font-weight="bold" text-anchor="end" fill="#1c1a1b" >50</text>
<line x1="314.90" y1="464.00" x2="323.40" y2="464.00" stroke="#1c1a1b" stroke-width="1.7" />
<text x="311.9" y="469.3" font-family="Liberation Sans" font-size="14.9" font-weight="bold" text-anchor="end" fill="#1c1a1b" >100</text>
<line x1="323.40" y1="661.00" x2="323.40" y2="669.50" stroke="#1c1a1b" stroke-width="1.7" />
<text x="323.4" y="686.5" font-family="Liberation Sans" font-size="14.9" font-weight="bold" text-anchor="middle" fill="#1c1a1b" >0</text>
<line x1="382.60" y1="661.00" x2="382.60" y2="669.50" stroke="#1c1a1b" stroke-width="1.7" />
<text x="382.6" y="686.5" font-family="Liberation Sans" font-size="14.9" font-weight="bold" text-anchor="middle" fill="#1c1a1b" >1000</text>
<line x1="441.80" y1="661.00" x2="441.80" y2="669.50" stroke="#1c1a1b" stroke-width="1.7" />
<text x="441.8" y="686.5" font-family="Liberation Sans" font-size="14.9" font-weight="bold" text-anchor="middle" fill="#1c1a1b" >2000</text>
<line x1="501.00" y1="661.00" x2="501.00" y2="669.50" stroke="#1c1a1b" stroke-width="1.7" />
<text x="501.0" y="686.5" font-family="Liberation Sans" font-size="14.9" font-weight="bold" text-anchor="middle" fill="#1c1a1b" >3000</text>
<line x1="560.20" y1="661.00" x2="560.20" y2="669.50" stroke="#1c1a1b" stroke-width="1.7" />
<text x="560.2" y="686.5" font-family="Liberation Sans" font-size="14.9" font-weight="bold" text-anchor="middle" fill="#1c1a1b" >4000</text>
<line x1="619.40" y1="661.00" x2="619.40" y2="669.50" stroke="#1c1a1b" stroke-width="1.7" />
<text x="619.4" y="686.5" font-family="Liberation Sans" font-size="14.9" font-weight="bold" text-anchor="middle" fill="#1c1a1b" >5000</text>
<text x="475.6" y="709.5" font-family="Liberation Sans" font-size="14.5" font-weight="bold" text-anchor="middle" fill="#1c1a1b" letter-spacing="0.42">Inter-event-interval (ms)</text>
<text x="269.0" y="562.5" font-family="Liberation Sans" font-size="14.2" font-weight="bold" text-anchor="middle" fill="#1c1a1b" transform="rotate(-90 269.0 562.5)" dominant-baseline="central" letter-spacing="0.3">Relative frequency (percentages)</text>
<line x1="486.00" y1="537.60" x2="506.50" y2="537.60" stroke="#f0394c" stroke-width="2" />
<text x="518.7" y="542.6" font-family="Liberation Sans" font-size="14" font-weight="bold" text-anchor="start" fill="#1c1a1b" letter-spacing="0.6">CCI</text>
<line x1="486.00" y1="564.80" x2="506.50" y2="564.80" stroke="#3fa7b3" stroke-width="2" />
<text x="518.7" y="569.8" font-family="Liberation Sans" font-size="14" font-weight="bold" text-anchor="start" fill="#1c1a1b" letter-spacing="0.3">iβARK</text>
<line x1="486.00" y1="592.00" x2="506.50" y2="592.00" stroke="#e9338f" stroke-width="2" />
<text x="518.7" y="597.0" font-family="Liberation Sans" font-size="14" font-weight="bold" text-anchor="start" fill="#1c1a1b" letter-spacing="0.6">mCherry</text>
<path d="M323.60,661.00 C324.50,657.03 326.73,645.83 329.00,637.20 C331.27,628.57 334.08,616.98 337.20,609.20 C340.32,601.42 344.40,595.95 347.70,590.50 C351.00,585.05 353.88,581.95 357.00,576.50 C360.12,571.05 363.67,562.48 366.40,557.80 C369.13,553.12 370.28,552.30 373.40,548.40 C376.52,544.50 381.20,539.27 385.10,534.40 C389.00,529.53 393.68,522.12 396.80,519.20 C399.92,516.28 401.87,518.25 403.80,516.90 C405.73,515.55 405.28,514.42 408.40,511.10 C411.52,507.78 417.82,501.10 422.50,497.00 C427.18,492.90 432.37,489.32 436.50,486.50 C440.63,483.68 442.82,481.57 447.30,480.10 C451.78,478.63 459.75,478.73 463.40,477.70 C467.05,476.67 465.55,475.12 469.20,473.90 C472.85,472.68 478.97,471.32 485.30,470.40 C491.63,469.48 500.15,469.12 507.20,468.40 C514.25,467.68 519.33,466.73 527.60,466.10 C535.87,465.47 548.53,465.00 556.80,464.60 C565.07,464.20 573.80,463.85 577.20,463.70" fill="none" stroke="#3fa7b3" stroke-width="1.8" stroke-linejoin="round"/>
<path d="M323.60,661.00 C324.50,654.30 326.93,634.88 329.00,620.80 C331.07,606.72 333.27,589.73 336.00,576.50 C338.73,563.27 342.48,549.97 345.40,541.40 C348.32,532.83 350.78,530.15 353.50,525.10 C356.22,520.05 359.17,515.58 361.70,511.10 C364.23,506.62 366.37,502.10 368.70,498.20 C371.03,494.30 373.37,490.62 375.70,487.70 C378.03,484.78 379.97,482.57 382.70,480.70 C385.43,478.83 388.20,477.58 392.10,476.50 C396.00,475.42 402.98,475.13 406.10,474.20 C409.22,473.27 406.52,471.77 410.80,470.90 C415.08,470.03 427.52,469.70 431.80,469.00 C436.08,468.30 432.60,467.40 436.50,466.70 C440.40,466.00 449.17,465.27 455.20,464.80 C461.23,464.33 469.78,464.05 472.70,463.90" fill="none" stroke="#e9338f" stroke-width="1.8" stroke-linejoin="round"/>
<path d="M323.60,661.00 C324.30,654.70 325.92,636.90 327.80,623.20 C329.68,609.50 332.37,591.27 334.90,578.80 C337.43,566.33 340.48,556.58 343.00,548.40 C345.52,540.22 347.67,535.15 350.00,529.70 C352.33,524.25 354.67,520.55 357.00,515.70 C359.33,510.85 361.67,505.07 364.00,500.60 C366.33,496.13 368.07,492.80 371.00,488.90 C373.93,485.00 378.47,479.82 381.60,477.20 C384.73,474.58 386.50,474.48 389.80,473.20 C393.10,471.92 397.13,470.40 401.40,469.50 C405.67,468.60 409.95,468.35 415.40,467.80 C420.85,467.25 427.47,466.70 434.10,466.20 C440.73,465.70 448.77,465.18 455.20,464.80 C461.63,464.42 469.78,464.05 472.70,463.90" fill="none" stroke="#f0394c" stroke-width="1.8" stroke-linejoin="round"/>
<line x1="322.00" y1="764.00" x2="322.00" y2="961.80" stroke="#1c1a1b" stroke-width="1.7" />
<line x1="322.00" y1="961.00" x2="619.00" y2="961.00" stroke="#1c1a1b" stroke-width="1.7" />
<line x1="313.50" y1="961.00" x2="322.00" y2="961.00" stroke="#1c1a1b" stroke-width="1.7" />
<text x="310.5" y="966.3" font-family="Liberation Sans" font-size="14.9" font-weight="bold" text-anchor="end" fill="#1c1a1b" >0</text>
<line x1="313.50" y1="862.50" x2="322.00" y2="862.50" stroke="#1c1a1b" stroke-width="1.7" />
<text x="310.5" y="867.8" font-family="Liberation Sans" font-size="14.9" font-weight="bold" text-anchor="end" fill="#1c1a1b" >50</text>
<line x1="313.50" y1="764.00" x2="322.00" y2="764.00" stroke="#1c1a1b" stroke-width="1.7" />
<text x="310.5" y="769.3" font-family="Liberation Sans" font-size="14.9" font-weight="bold" text-anchor="end" fill="#1c1a1b" >100</text>
<line x1="322.00" y1="961.00" x2="322.00" y2="969.50" stroke="#1c1a1b" stroke-width="1.7" />
<text x="322.0" y="986.5" font-family="Liberation Sans" font-size="14.9" font-weight="bold" text-anchor="middle" fill="#1c1a1b" >0</text>
<line x1="396.20" y1="961.00" x2="396.20" y2="969.50" stroke="#1c1a1b" stroke-width="1.7" />
<text x="396.2" y="986.5" font-family="Liberation Sans" font-size="14.9" font-weight="bold" text-anchor="middle" fill="#1c1a1b" >20</text>
<line x1="470.40" y1="961.00" x2="470.40" y2="969.50" stroke="#1c1a1b" stroke-width="1.7" />
<text x="470.4" y="986.5" font-family="Liberation Sans" font-size="14.9" font-weight="bold" text-anchor="middle" fill="#1c1a1b" >40</text>
<line x1="544.60" y1="961.00" x2="544.60" y2="969.50" stroke="#1c1a1b" stroke-width="1.7" />
<text x="544.6" y="986.5" font-family="Liberation Sans" font-size="14.9" font-weight="bold" text-anchor="middle" fill="#1c1a1b" >60</text>
<line x1="618.80" y1="961.00" x2="618.80" y2="969.50" stroke="#1c1a1b" stroke-width="1.7" />
<text x="618.8" y="986.5" font-family="Liberation Sans" font-size="14.9" font-weight="bold" text-anchor="middle" fill="#1c1a1b" >80</text>
<text x="467.7" y="1010.5" font-family="Liberation Sans" font-size="14.5" font-weight="bold" text-anchor="middle" fill="#1c1a1b" letter-spacing="0.42">Amplitude (pA)</text>
<text x="269.0" y="862.5" font-family="Liberation Sans" font-size="14.2" font-weight="bold" text-anchor="middle" fill="#1c1a1b" transform="rotate(-90 269.0 862.5)" dominant-baseline="central" letter-spacing="0.3">Relative frequency (percentages)</text>
<line x1="486.00" y1="849.80" x2="506.50" y2="849.80" stroke="#f0394c" stroke-width="2" />
<text x="518.7" y="854.8" font-family="Liberation Sans" font-size="14" font-weight="bold" text-anchor="start" fill="#1c1a1b" letter-spacing="0.6">CCI</text>
<line x1="486.00" y1="876.30" x2="506.50" y2="876.30" stroke="#3fa7b3" stroke-width="2" />
<text x="518.7" y="881.3" font-family="Liberation Sans" font-size="14" font-weight="bold" text-anchor="start" fill="#1c1a1b" letter-spacing="0.3">iβARK</text>
<line x1="486.00" y1="902.10" x2="506.50" y2="902.10" stroke="#e9338f" stroke-width="2" />
<text x="518.7" y="907.1" font-family="Liberation Sans" font-size="14" font-weight="bold" text-anchor="start" fill="#1c1a1b" letter-spacing="0.6">mCherry</text>
<path d="M334.90,961.00 C336.25,960.53 340.87,961.78 343.00,958.20 C345.13,954.62 346.13,947.28 347.70,939.50 C349.27,931.72 350.85,920.45 352.40,911.50 C353.95,902.55 355.45,894.37 357.00,885.80 C358.55,877.23 360.33,867.88 361.70,860.10 C363.07,852.32 363.63,845.33 365.20,839.10 C366.77,832.87 368.77,828.73 371.10,822.70 C373.43,816.67 375.70,807.77 379.20,802.90 C382.70,798.03 388.78,796.42 392.10,793.50 C395.42,790.58 395.60,787.92 399.10,785.40 C402.60,782.88 408.82,780.55 413.10,778.40 C417.38,776.25 420.13,774.07 424.80,772.50 C429.47,770.93 435.27,769.97 441.10,769.00 C446.93,768.03 454.15,767.17 459.80,766.70 C465.45,766.23 468.30,766.52 475.00,766.20 C481.70,765.88 490.50,765.17 500.00,764.80 C509.50,764.43 526.67,764.13 532.00,764.00" fill="none" stroke="#3fa7b3" stroke-width="1.8" stroke-linejoin="round"/>
<path d="M333.70,961.00 C335.25,960.15 340.28,958.70 343.00,955.90 C345.72,953.10 347.67,951.22 350.00,944.20 C352.33,937.18 354.67,923.15 357.00,913.80 C359.33,904.45 361.65,896.65 364.00,888.10 C366.35,879.55 368.57,870.28 371.10,862.50 C373.63,854.72 376.08,848.42 379.20,841.40 C382.32,834.38 386.48,825.07 389.80,820.40 C393.12,815.73 395.60,815.73 399.10,813.40 C402.60,811.07 406.90,810.30 410.80,806.40 C414.70,802.50 417.83,794.08 422.50,790.00 C427.17,785.92 433.35,784.23 438.80,781.90 C444.25,779.57 449.17,778.07 455.20,776.00 C461.23,773.93 467.53,771.08 475.00,769.50 C482.47,767.92 489.17,767.32 500.00,766.50 C510.83,765.68 523.08,765.02 540.00,764.60 C556.92,764.18 591.25,764.10 601.50,764.00" fill="none" stroke="#e9338f" stroke-width="1.8" stroke-linejoin="round"/>
<path d="M333.70,961.00 C335.25,960.15 340.28,958.70 343.00,955.90 C345.72,953.10 347.47,951.22 350.00,944.20 C352.53,937.18 355.67,922.75 358.20,913.80 C360.73,904.85 362.67,898.67 365.20,890.50 C367.73,882.33 370.48,872.98 373.40,864.80 C376.32,856.62 379.00,849.38 382.70,841.40 C386.40,833.42 391.70,823.52 395.60,816.90 C399.50,810.28 402.02,806.37 406.10,801.70 C410.18,797.03 415.03,792.40 420.10,788.90 C425.17,785.40 431.05,783.43 436.50,780.70 C441.95,777.97 447.75,774.77 452.80,772.50 C457.85,770.23 463.10,768.15 466.80,767.10 C470.50,766.05 469.47,766.62 475.00,766.20 C480.53,765.78 490.50,764.97 500.00,764.60 C509.50,764.23 526.67,764.10 532.00,764.00" fill="none" stroke="#f0394c" stroke-width="1.8" stroke-linejoin="round"/>
<path d="M20.50,1051.90 L30.00,1051.90 L30.00,1042.70 L30.45,1118.50 L30.90,1067.90 L32.30,1061.90 L32.80,1070.20 L33.30,1076.70 L33.80,1081.75 L34.30,1085.63 L34.80,1088.56 L35.30,1090.72 L35.80,1092.28 L36.30,1093.34 L36.80,1094.00 L37.30,1094.34 L37.80,1094.44 L38.30,1094.33 L38.80,1094.07 L39.30,1093.68 L39.80,1093.19 L40.30,1092.63 L40.80,1092.02 L41.30,1091.36 L41.80,1090.68 L42.30,1089.97 L42.80,1089.25 L43.30,1088.52 L43.80,1087.79 L44.30,1087.07 L44.80,1086.34 L45.30,1085.63 L45.80,1084.92 L46.30,1084.23 L46.80,1083.54 L47.30,1082.87 L47.80,1082.21 L48.30,1081.56 L48.80,1080.93 L49.30,1080.31 L49.80,1079.71 L50.30,1079.11 L50.80,1078.54 L51.30,1077.97 L51.80,1077.42 L52.30,1076.88 L52.80,1076.35 L53.30,1075.84 L53.80,1075.34 L54.30,1074.85 L54.80,1074.37 L55.30,1073.91 L55.80,1073.46 L56.30,1073.01 L56.80,1072.58 L57.30,1072.16 L57.80,1071.75 L58.30,1071.35 L58.80,1070.96 L59.30,1070.57 L59.80,1070.20 L60.30,1069.84 L60.80,1069.49 L61.30,1069.14 L61.80,1068.80 L62.30,1068.48 L62.80,1068.15 L63.30,1067.84 L63.80,1067.54 L64.30,1067.24 L64.80,1066.95 L65.30,1066.67 L65.80,1066.39 L66.30,1066.12 L66.80,1065.86 L67.30,1065.61 L67.80,1065.36 L68.30,1065.11 L68.80,1064.88 L69.30,1064.64 L69.80,1064.42 L70.30,1064.20 L70.80,1063.98 L71.30,1063.77 L71.80,1063.57 L72.30,1063.37 L72.80,1063.18 L73.30,1062.99 L73.80,1062.80 L74.30,1062.62 L74.80,1062.45 L75.30,1062.27 L75.80,1062.11 L76.30,1061.94 L76.80,1061.78 L77.30,1061.63 L77.80,1061.48 L78.30,1061.33 L78.80,1061.19 L79.30,1061.05 L79.80,1060.91 L80.30,1060.78 L80.80,1060.65 L81.30,1060.52 L81.80,1060.39 L82.30,1060.27 L82.80,1060.16 L83.30,1060.04 L83.80,1059.93 L84.30,1059.82 L84.80,1059.71 L85.30,1059.61 L85.80,1059.51 L86.30,1059.41 L86.80,1059.31 L87.30,1059.22 L87.80,1059.13 L88.30,1059.04 L88.80,1058.95 L89.30,1058.86 L89.80,1058.78 L90.30,1058.70 L90.80,1058.62 L91.30,1058.54 L91.80,1058.47 L92.30,1058.40 L92.80,1058.32 L93.30,1058.25 L93.80,1058.19 L94.30,1058.12 L94.80,1058.06 L95.30,1057.99 L95.80,1057.93 L96.30,1057.87 L96.80,1057.81 L97.30,1057.75 L97.80,1057.70 L98.30,1057.64 L98.80,1057.59 L99.30,1057.54 L99.80,1057.49 L100.30,1057.44 L100.80,1057.39 L101.30,1057.35 L101.80,1057.30 L102.30,1057.26 L102.80,1057.21 L103.30,1057.17 L103.80,1057.13 L104.30,1057.09 L104.80,1057.05 L105.30,1057.01 L105.80,1056.97 L106.30,1056.94 L106.80,1056.90 L107.30,1056.87 L107.80,1056.83 L108.30,1056.80 L108.80,1056.77 L109.30,1056.74 L109.80,1056.71 L110.30,1056.68 L110.80,1056.65 L111.30,1056.62 L111.80,1056.59 L112.30,1056.57 L112.80,1056.54 L113.30,1056.51 L113.80,1056.49 L114.30,1056.46 L114.80,1056.44 L115.30,1056.42 L115.80,1056.39 L116.30,1056.37 L116.80,1056.35 L117.30,1056.33 L117.80,1056.31 L118.30,1056.29 L118.80,1056.27 L119.30,1056.25 L119.80,1056.23 L120.30,1056.21 L120.80,1056.20 L121.30,1056.18 L121.80,1056.16 L122.30,1056.15 L122.80,1056.13 L123.30,1056.11 L123.80,1056.10 L124.30,1056.08 L124.80,1056.07 L125.30,1056.06 L125.80,1056.04 L126.30,1056.03 L126.80,1056.02 L127.30,1056.00 L127.80,1055.99 L128.30,1055.98 L128.80,1055.97 L129.30,1055.96 L129.80,1055.94 L130.30,1055.93 L130.80,1055.92 L131.30,1055.91 L131.80,1055.90 L133.20,1042.70 L133.65,1118.50 L134.10,1073.40 L135.40,1067.40 L135.90,1076.20 L136.40,1083.08 L136.90,1088.41 L137.40,1092.48 L137.90,1095.54 L138.40,1097.78 L138.90,1099.36 L139.40,1100.42 L139.90,1101.06 L140.40,1101.35 L140.90,1101.38 L141.40,1101.20 L141.90,1100.84 L142.40,1100.36 L142.90,1099.78 L143.40,1099.11 L143.90,1098.39 L144.40,1097.63 L144.90,1096.83 L145.40,1096.02 L145.90,1095.19 L146.40,1094.36 L146.90,1093.52 L147.40,1092.69 L147.90,1091.86 L148.40,1091.05 L148.90,1090.24 L149.40,1089.45 L149.90,1088.67 L150.40,1087.91 L150.90,1087.15 L151.40,1086.42 L151.90,1085.70 L152.40,1085.00 L152.90,1084.31 L153.40,1083.63 L153.90,1082.98 L154.40,1082.33 L154.90,1081.71 L155.40,1081.09 L155.90,1080.50 L156.40,1079.91 L156.90,1079.34 L157.40,1078.79 L157.90,1078.25 L158.40,1077.72 L158.90,1077.20 L159.40,1076.70 L159.90,1076.21 L160.40,1075.73 L160.90,1075.26 L161.40,1074.81 L161.90,1074.36 L162.40,1073.93 L162.90,1073.51 L163.40,1073.09 L163.90,1072.69 L164.40,1072.30 L164.90,1071.92 L165.40,1071.54 L165.90,1071.18 L166.40,1070.82 L166.90,1070.48 L167.40,1070.14 L167.90,1069.81 L168.40,1069.49 L168.90,1069.18 L169.40,1068.87 L169.90,1068.57 L170.40,1068.28 L170.90,1068.00 L171.40,1067.72 L171.90,1067.45 L172.40,1067.19 L172.90,1066.93 L173.40,1066.68 L173.90,1066.44 L174.40,1066.20 L174.90,1065.97 L175.40,1065.74 L175.90,1065.52 L176.40,1065.31 L176.90,1065.10 L177.40,1064.89 L177.90,1064.69 L178.40,1064.50 L178.90,1064.31 L179.40,1064.12 L179.90,1063.94 L180.40,1063.76 L180.90,1063.59 L181.40,1063.42 L181.90,1063.26 L182.40,1063.10 L182.90,1062.95 L183.40,1062.79 L183.90,1062.65 L184.40,1062.50 L184.90,1062.36 L185.40,1062.22 L185.90,1062.09 L186.40,1061.96 L186.90,1061.83 L187.40,1061.71 L187.90,1061.59 L188.40,1061.47 L188.90,1061.35 L189.40,1061.24 L189.90,1061.13 L190.40,1061.02 L190.90,1060.92 L191.40,1060.82 L191.90,1060.72 L192.40,1060.62 L192.90,1060.53 L193.40,1060.44 L193.90,1060.35 L194.40,1060.26 L194.90,1060.17 L195.40,1060.09 L195.90,1060.01 L196.40,1059.93 L196.90,1059.85 L197.40,1059.78 L197.90,1059.70 L198.40,1059.63 L198.90,1059.56 L199.40,1059.49 L199.90,1059.43 L200.40,1059.36 L200.90,1059.30 L201.40,1059.24 L201.90,1059.18 L202.40,1059.12 L202.90,1059.06 L203.40,1059.01 L203.90,1058.95 L204.40,1058.90 L204.90,1058.85 L205.40,1058.80 L205.90,1058.75 L206.40,1058.70 L206.90,1058.65 L207.40,1058.61 L207.90,1058.56 L208.40,1058.52 L208.90,1058.47 L209.40,1058.43 L209.90,1058.39 L210.40,1058.35 L210.90,1058.32 L211.40,1058.28 L211.90,1058.24 L212.40,1058.21 L212.90,1058.17 L213.40,1058.14 L213.90,1058.10 L214.40,1058.07 L214.90,1058.04 L215.40,1058.01 L215.90,1057.98 L216.40,1057.95 L216.90,1057.92 L217.40,1057.90 L217.90,1057.87 L218.40,1057.84 L218.90,1057.82 L219.40,1057.79 L219.90,1057.77 L220.40,1057.74 L220.90,1057.72 L221.40,1057.70 L221.90,1057.67 L222.40,1057.65 L222.90,1057.63 L223.40,1057.61 L223.90,1057.59 L224.40,1057.57 L224.90,1057.55 L225.40,1057.53 L225.90,1057.52 L226.40,1057.50 L226.90,1057.48 L227.40,1057.46 L227.80,1057.45" fill="none" stroke="#e6939a" stroke-width="1.0" stroke-linejoin="round"/>
<path d="M238.90,1053.50 L248.40,1053.50 L248.40,1044.40 L248.85,1120.10 L249.30,1061.00 L253.50,1055.00 L254.00,1059.59 L254.50,1063.53 L255.00,1066.90 L255.50,1069.77 L256.00,1072.21 L256.50,1074.26 L257.00,1075.98 L257.50,1077.40 L258.00,1078.57 L258.50,1079.51 L259.00,1080.25 L259.50,1080.82 L260.00,1081.24 L260.50,1081.53 L261.00,1081.71 L261.50,1081.79 L262.00,1081.79 L262.50,1081.71 L263.00,1081.57 L263.50,1081.38 L264.00,1081.14 L264.50,1080.87 L265.00,1080.56 L265.50,1080.22 L266.00,1079.86 L266.50,1079.49 L267.00,1079.10 L267.50,1078.69 L268.00,1078.28 L268.50,1077.86 L269.00,1077.44 L269.50,1077.01 L270.00,1076.59 L270.50,1076.16 L271.00,1075.73 L271.50,1075.31 L272.00,1074.89 L272.50,1074.47 L273.00,1074.06 L273.50,1073.66 L274.00,1073.26 L274.50,1072.86 L275.00,1072.47 L275.50,1072.09 L276.00,1071.71 L276.50,1071.34 L277.00,1070.98 L277.50,1070.62 L278.00,1070.27 L278.50,1069.93 L279.00,1069.60 L279.50,1069.27 L280.00,1068.95 L280.50,1068.63 L281.00,1068.32 L281.50,1068.02 L282.00,1067.73 L282.50,1067.44 L283.00,1067.15 L283.50,1066.88 L284.00,1066.61 L284.50,1066.35 L285.00,1066.09 L285.50,1065.84 L286.00,1065.59 L286.50,1065.35 L287.00,1065.11 L287.50,1064.88 L288.00,1064.66 L288.50,1064.44 L289.00,1064.22 L289.50,1064.02 L290.00,1063.81 L290.50,1063.61 L291.00,1063.42 L291.50,1063.23 L292.00,1063.04 L292.50,1062.86 L293.00,1062.68 L293.50,1062.51 L294.00,1062.34 L294.50,1062.17 L295.00,1062.01 L295.50,1061.85 L296.00,1061.70 L296.50,1061.55 L297.00,1061.40 L297.50,1061.26 L298.00,1061.12 L298.50,1060.98 L299.00,1060.85 L299.50,1060.72 L300.00,1060.59 L300.50,1060.47 L301.00,1060.34 L301.50,1060.22 L302.00,1060.11 L302.50,1060.00 L303.00,1059.89 L303.50,1059.78 L304.00,1059.67 L304.50,1059.57 L305.00,1059.47 L305.50,1059.37 L306.00,1059.28 L306.50,1059.18 L307.00,1059.09 L307.50,1059.00 L308.00,1058.91 L308.50,1058.83 L309.00,1058.75 L309.50,1058.66 L310.00,1058.59 L310.50,1058.51 L311.00,1058.43 L311.50,1058.36 L312.00,1058.29 L312.50,1058.22 L313.00,1058.15 L313.50,1058.08 L314.00,1058.02 L314.50,1057.95 L315.00,1057.89 L315.50,1057.83 L316.00,1057.77 L316.50,1057.71 L317.00,1057.65 L317.50,1057.60 L318.00,1057.54 L318.50,1057.49 L319.00,1057.44 L319.50,1057.39 L320.00,1057.34 L320.50,1057.29 L321.00,1057.25 L321.50,1057.20 L322.00,1057.16 L322.50,1057.11 L323.00,1057.07 L323.50,1057.03 L324.00,1056.99 L324.50,1056.95 L325.00,1056.91 L325.50,1056.87 L326.00,1056.83 L326.50,1056.80 L327.00,1056.76 L327.50,1056.73 L328.00,1056.69 L328.50,1056.66 L329.00,1056.63 L329.50,1056.60 L330.00,1056.57 L330.50,1056.54 L331.00,1056.51 L331.50,1056.48 L332.00,1056.45 L332.50,1056.43 L333.00,1056.40 L333.50,1056.37 L334.00,1056.35 L334.50,1056.32 L335.00,1056.30 L335.50,1056.28 L336.00,1056.25 L336.50,1056.23 L337.00,1056.21 L337.50,1056.19 L338.00,1056.17 L338.50,1056.15 L339.00,1056.13 L339.50,1056.11 L340.00,1056.09 L340.50,1056.07 L341.00,1056.05 L341.50,1056.03 L342.00,1056.02 L342.50,1056.00 L343.00,1055.98 L343.50,1055.97 L344.00,1055.95 L344.50,1055.94 L345.00,1055.92 L345.50,1055.91 L346.00,1055.89 L346.50,1055.88 L347.00,1055.86 L347.50,1055.85 L348.00,1055.84 L348.50,1055.83 L349.00,1055.81 L349.50,1055.80 L349.70,1055.79 L351.50,1044.40 L351.95,1120.10 L352.40,1062.80 L356.60,1056.80 L357.10,1064.03 L357.60,1070.28 L358.10,1075.67 L358.60,1080.29 L359.10,1084.24 L359.60,1087.59 L360.10,1090.42 L360.60,1092.78 L361.10,1094.74 L361.60,1096.34 L362.10,1097.63 L362.60,1098.63 L363.10,1099.40 L363.60,1099.96 L364.10,1100.33 L364.60,1100.53 L365.10,1100.60 L365.60,1100.55 L366.10,1100.39 L366.60,1100.13 L367.10,1099.81 L367.60,1099.41 L368.10,1098.95 L368.60,1098.45 L369.10,1097.91 L369.60,1097.33 L370.10,1096.73 L370.60,1096.10 L371.10,1095.46 L371.60,1094.80 L372.10,1094.13 L372.60,1093.46 L373.10,1092.78 L373.60,1092.10 L374.10,1091.42 L374.60,1090.74 L375.10,1090.06 L375.60,1089.39 L376.10,1088.73 L376.60,1088.07 L377.10,1087.42 L377.60,1086.78 L378.10,1086.14 L378.60,1085.52 L379.10,1084.90 L379.60,1084.30 L380.10,1083.71 L380.60,1083.12 L381.10,1082.55 L381.60,1081.99 L382.10,1081.44 L382.60,1080.90 L383.10,1080.37 L383.60,1079.85 L384.10,1079.35 L384.60,1078.85 L385.10,1078.36 L385.60,1077.89 L386.10,1077.42 L386.60,1076.97 L387.10,1076.52 L387.60,1076.09 L388.10,1075.66 L388.60,1075.25 L389.10,1074.84 L389.60,1074.44 L390.10,1074.05 L390.60,1073.67 L391.10,1073.30 L391.60,1072.94 L392.10,1072.58 L392.60,1072.24 L393.10,1071.90 L393.60,1071.57 L394.10,1071.25 L394.60,1070.93 L395.10,1070.62 L395.60,1070.32 L396.10,1070.03 L396.60,1069.74 L397.10,1069.46 L397.60,1069.19 L398.10,1068.92 L398.60,1068.66 L399.10,1068.40 L399.60,1068.15 L400.10,1067.91 L400.60,1067.67 L401.10,1067.44 L401.60,1067.21 L402.10,1066.99 L402.60,1066.78 L403.10,1066.56 L403.60,1066.36 L404.10,1066.16 L404.60,1065.96 L405.10,1065.77 L405.60,1065.58 L406.10,1065.40 L406.60,1065.22 L407.10,1065.05 L407.60,1064.87 L408.10,1064.71 L408.60,1064.55 L409.10,1064.39 L409.60,1064.23 L410.10,1064.08 L410.60,1063.93 L411.10,1063.79 L411.60,1063.65 L412.10,1063.51 L412.60,1063.38 L413.10,1063.24 L413.60,1063.12 L414.10,1062.99 L414.60,1062.87 L415.10,1062.75 L415.60,1062.63 L416.10,1062.52 L416.60,1062.41 L417.10,1062.30 L417.60,1062.19 L418.10,1062.09 L418.60,1061.99 L419.10,1061.89 L419.60,1061.80 L420.10,1061.70 L420.60,1061.61 L421.10,1061.52 L421.60,1061.43 L422.10,1061.35 L422.60,1061.26 L423.10,1061.18 L423.60,1061.10 L424.10,1061.02 L424.60,1060.95 L425.10,1060.87 L425.60,1060.80 L426.10,1060.73 L426.60,1060.66 L427.10,1060.60 L427.60,1060.53 L428.10,1060.47 L428.60,1060.40 L429.10,1060.34 L429.60,1060.28 L430.10,1060.22 L430.60,1060.17 L431.10,1060.11 L431.60,1060.06 L432.10,1060.00 L432.60,1059.95 L433.10,1059.90 L433.60,1059.85 L434.10,1059.80 L434.60,1059.76 L435.10,1059.71 L435.60,1059.66 L436.10,1059.62 L436.60,1059.58 L437.10,1059.54 L437.60,1059.50 L438.10,1059.46 L438.60,1059.42 L439.10,1059.38 L439.60,1059.34 L440.10,1059.31 L440.60,1059.27 L441.10,1059.24 L441.60,1059.20 L442.10,1059.17 L442.60,1059.14 L443.10,1059.10 L443.60,1059.07 L444.10,1059.04 L444.60,1059.01 L445.10,1058.99 L445.60,1058.96 L446.00,1058.93" fill="none" stroke="#90cfd1" stroke-width="1.0" stroke-linejoin="round"/>
<path d="M453.80,1051.50 L462.50,1051.50 L462.50,1042.80 L462.95,1118.10 L463.40,1068.00 L466.70,1062.00 L467.20,1069.96 L467.70,1076.40 L468.20,1081.57 L468.70,1085.70 L469.20,1088.95 L469.70,1091.48 L470.20,1093.40 L470.70,1094.82 L471.20,1095.83 L471.70,1096.50 L472.20,1096.89 L472.70,1097.04 L473.20,1097.00 L473.70,1096.81 L474.20,1096.49 L474.70,1096.07 L475.20,1095.57 L475.70,1095.01 L476.20,1094.40 L476.70,1093.74 L477.20,1093.06 L477.70,1092.35 L478.20,1091.63 L478.70,1090.91 L479.20,1090.17 L479.70,1089.44 L480.20,1088.71 L480.70,1087.98 L481.20,1087.26 L481.70,1086.54 L482.20,1085.84 L482.70,1085.15 L483.20,1084.46 L483.70,1083.79 L484.20,1083.14 L484.70,1082.49 L485.20,1081.86 L485.70,1081.23 L486.20,1080.63 L486.70,1080.03 L487.20,1079.45 L487.70,1078.88 L488.20,1078.32 L488.70,1077.78 L489.20,1077.24 L489.70,1076.72 L490.20,1076.21 L490.70,1075.72 L491.20,1075.23 L491.70,1074.76 L492.20,1074.29 L492.70,1073.84 L493.20,1073.40 L493.70,1072.96 L494.20,1072.54 L494.70,1072.13 L495.20,1071.73 L495.70,1071.33 L496.20,1070.95 L496.70,1070.58 L497.20,1070.21 L497.70,1069.85 L498.20,1069.50 L498.70,1069.16 L499.20,1068.83 L499.70,1068.50 L500.20,1068.18 L500.70,1067.87 L501.20,1067.57 L501.70,1067.28 L502.20,1066.99 L502.70,1066.71 L503.20,1066.43 L503.70,1066.16 L504.20,1065.90 L504.70,1065.64 L505.20,1065.39 L505.70,1065.15 L506.20,1064.91 L506.70,1064.68 L507.20,1064.45 L507.70,1064.23 L508.20,1064.01 L508.70,1063.80 L509.20,1063.59 L509.70,1063.39 L510.20,1063.19 L510.70,1063.00 L511.20,1062.81 L511.70,1062.63 L512.20,1062.45 L512.70,1062.27 L513.20,1062.10 L513.70,1061.93 L514.20,1061.77 L514.70,1061.61 L515.20,1061.45 L515.70,1061.30 L516.20,1061.15 L516.70,1061.01 L517.20,1060.87 L517.70,1060.73 L518.20,1060.60 L518.70,1060.46 L519.20,1060.34 L519.70,1060.21 L520.20,1060.09 L520.70,1059.97 L521.20,1059.85 L521.70,1059.74 L522.20,1059.62 L522.70,1059.52 L523.20,1059.41 L523.70,1059.31 L524.20,1059.20 L524.70,1059.11 L525.20,1059.01 L525.70,1058.91 L526.20,1058.82 L526.70,1058.73 L527.20,1058.65 L527.70,1058.56 L528.20,1058.48 L528.70,1058.39 L529.20,1058.31 L529.70,1058.24 L530.20,1058.16 L530.70,1058.09 L531.20,1058.01 L531.70,1057.94 L532.20,1057.87 L532.70,1057.81 L533.20,1057.74 L533.70,1057.67 L534.20,1057.61 L534.70,1057.55 L535.20,1057.49 L535.70,1057.43 L536.20,1057.37 L536.70,1057.32 L537.20,1057.26 L537.70,1057.21 L538.20,1057.16 L538.70,1057.11 L539.20,1057.06 L539.70,1057.01 L540.20,1056.96 L540.70,1056.92 L541.20,1056.87 L541.70,1056.83 L542.20,1056.78 L542.70,1056.74 L543.20,1056.70 L543.70,1056.66 L544.20,1056.62 L544.70,1056.58 L545.20,1056.55 L545.70,1056.51 L546.20,1056.47 L546.70,1056.44 L547.20,1056.41 L547.70,1056.37 L548.20,1056.34 L548.70,1056.31 L549.20,1056.28 L549.70,1056.25 L550.20,1056.22 L550.70,1056.19 L551.20,1056.16 L551.70,1056.14 L552.20,1056.11 L552.70,1056.08 L553.20,1056.06 L553.70,1056.03 L554.20,1056.01 L554.70,1055.98 L555.20,1055.96 L555.70,1055.94 L556.20,1055.92 L556.70,1055.89 L557.20,1055.87 L557.70,1055.85 L558.20,1055.83 L558.70,1055.81 L559.20,1055.79 L559.70,1055.78 L560.20,1055.76 L560.70,1055.74 L561.20,1055.72 L561.70,1055.71 L562.20,1055.69 L562.70,1055.67 L563.20,1055.66 L563.70,1055.64 L564.20,1055.63 L564.70,1055.61 L565.20,1055.60 L565.70,1055.58 L565.90,1055.57 L567.60,1042.80 L568.05,1118.10 L568.50,1073.30 L569.40,1067.30 L569.90,1074.65 L570.40,1080.57 L570.90,1085.32 L571.40,1089.08 L571.90,1092.03 L572.40,1094.29 L572.90,1095.99 L573.40,1097.23 L573.90,1098.08 L574.40,1098.61 L574.90,1098.87 L575.40,1098.93 L575.90,1098.80 L576.40,1098.54 L576.90,1098.15 L577.40,1097.68 L577.90,1097.13 L578.40,1096.52 L578.90,1095.87 L579.40,1095.18 L579.90,1094.46 L580.40,1093.73 L580.90,1092.98 L581.40,1092.23 L581.90,1091.48 L582.40,1090.72 L582.90,1089.97 L583.40,1089.23 L583.90,1088.49 L584.40,1087.76 L584.90,1087.04 L585.40,1086.34 L585.90,1085.64 L586.40,1084.96 L586.90,1084.29 L587.40,1083.63 L587.90,1082.98 L588.40,1082.35 L588.90,1081.73 L589.40,1081.13 L589.90,1080.54 L590.40,1079.96 L590.90,1079.39 L591.40,1078.84 L591.90,1078.29 L592.40,1077.77 L592.90,1077.25 L593.40,1076.74 L593.90,1076.25 L594.40,1075.77 L594.90,1075.30 L595.40,1074.84 L595.90,1074.39 L596.40,1073.95 L596.90,1073.52 L597.40,1073.10 L597.90,1072.69 L598.40,1072.29 L598.90,1071.90 L599.40,1071.52 L599.90,1071.15 L600.40,1070.78 L600.90,1070.43 L601.40,1070.08 L601.90,1069.75 L602.40,1069.41 L602.90,1069.09 L603.40,1068.78 L603.90,1068.47 L604.40,1068.17 L604.90,1067.88 L605.40,1067.59 L605.90,1067.31 L606.40,1067.04 L606.90,1066.77 L607.40,1066.51 L607.90,1066.25 L608.40,1066.01 L608.90,1065.76 L609.40,1065.53 L609.90,1065.30 L610.40,1065.07 L610.90,1064.85 L611.40,1064.63 L611.90,1064.42 L612.40,1064.22 L612.90,1064.02 L613.40,1063.82 L613.90,1063.63 L614.40,1063.45 L614.90,1063.26 L615.40,1063.09 L615.90,1062.91 L616.40,1062.74 L616.90,1062.58 L617.40,1062.41 L617.90,1062.26 L618.40,1062.10 L618.90,1061.95 L619.40,1061.80 L619.90,1061.66 L620.40,1061.52 L620.90,1061.38 L621.40,1061.25 L621.90,1061.12 L622.40,1060.99 L622.90,1060.87 L623.40,1060.75 L623.90,1060.63 L624.40,1060.51 L624.90,1060.40 L625.40,1060.29 L625.90,1060.18 L626.40,1060.07 L626.90,1059.97 L627.40,1059.87 L627.90,1059.77 L628.40,1059.68 L628.90,1059.58 L629.40,1059.49 L629.90,1059.40 L630.40,1059.32 L630.90,1059.23 L631.40,1059.15 L631.90,1059.07 L632.40,1058.99 L632.90,1058.91 L633.40,1058.83 L633.90,1058.76 L634.40,1058.69 L634.90,1058.62 L635.40,1058.55 L635.90,1058.48 L636.40,1058.42 L636.90,1058.35 L637.40,1058.29 L637.90,1058.23 L638.40,1058.17 L638.90,1058.11 L639.40,1058.06 L639.90,1058.00 L640.40,1057.95 L640.90,1057.89 L641.40,1057.84 L641.90,1057.79 L642.40,1057.74 L642.90,1057.69 L643.40,1057.65 L643.90,1057.60 L644.40,1057.56 L644.90,1057.51 L645.40,1057.47 L645.90,1057.43 L646.40,1057.39 L646.90,1057.35 L647.40,1057.31 L647.90,1057.27 L648.40,1057.23 L648.90,1057.20 L649.40,1057.16 L649.90,1057.13 L650.40,1057.09 L650.90,1057.06 L651.40,1057.03 L651.90,1057.00 L652.40,1056.97 L652.90,1056.94 L653.40,1056.91 L653.90,1056.88 L654.40,1056.85 L654.90,1056.83 L655.40,1056.80 L655.90,1056.77 L656.40,1056.75 L656.90,1056.72 L657.40,1056.70 L657.90,1056.68 L658.40,1056.65 L658.90,1056.63 L659.40,1056.61 L659.90,1056.59 L660.40,1056.57 L660.50,1056.55" fill="none" stroke="#da90c8" stroke-width="1.0" stroke-linejoin="round"/>
<text x="23.8" y="1041.0" font-family="Liberation Sans" font-size="14" font-weight="bold" text-anchor="start" fill="#f0474d" letter-spacing="1.0">CCI</text>
<text x="235.8" y="1040.0" font-family="Liberation Sans" font-size="14" font-weight="bold" text-anchor="start" fill="#45a9b5" letter-spacing="0.6">i<tspan font-weight="normal">β</tspan>&#8201;ARK</text>
<text x="446.0" y="1041.0" font-family="Liberation Sans" font-size="14" font-weight="bold" text-anchor="start" fill="#ec3192" letter-spacing="0.5">mCherry</text>
<polyline points="633.20,1070.80 633.20,1088.30 657.00,1088.30" fill="none" stroke="#1c1a1b" stroke-width="1.6" stroke-linejoin="miter" />
<text x="637.0" y="1083.0" font-family="Liberation Sans" font-size="11" font-weight="bold" text-anchor="start" fill="#1c1a1b" >40 pA</text>
<text x="635.3" y="1105.0" font-family="Liberation Sans" font-size="11" font-weight="bold" text-anchor="start" fill="#1c1a1b" >10 ms</text>
<line x1="488.40" y1="1216.10" x2="488.40" y2="1391.60" stroke="#1c1a1b" stroke-width="1.7" />
<line x1="488.40" y1="1391.00" x2="664.10" y2="1391.00" stroke="#1c1a1b" stroke-width="1.7" />
<line x1="480.00" y1="1390.80" x2="488.40" y2="1390.80" stroke="#1c1a1b" stroke-width="1.7" />
<text x="478.5" y="1395.9" font-family="Liberation Sans" font-size="14.2" font-weight="bold" text-anchor="end" fill="#1c1a1b" >0</text>
<line x1="480.00" y1="1332.57" x2="488.40" y2="1332.57" stroke="#1c1a1b" stroke-width="1.7" />
<text x="478.5" y="1337.7" font-family="Liberation Sans" font-size="14.2" font-weight="bold" text-anchor="end" fill="#1c1a1b" >1</text>
<line x1="480.00" y1="1274.34" x2="488.40" y2="1274.34" stroke="#1c1a1b" stroke-width="1.7" />
<text x="478.5" y="1279.4" font-family="Liberation Sans" font-size="14.2" font-weight="bold" text-anchor="end" fill="#1c1a1b" >2</text>
<line x1="480.00" y1="1216.11" x2="488.40" y2="1216.11" stroke="#1c1a1b" stroke-width="1.7" />
<text x="478.5" y="1221.2" font-family="Liberation Sans" font-size="14.2" font-weight="bold" text-anchor="end" fill="#1c1a1b" >3</text>
<line x1="538.10" y1="1390.80" x2="538.10" y2="1398.50" stroke="#1c1a1b" stroke-width="1.7" />
<text x="538.1" y="1411.5" font-family="Liberation Sans" font-size="13" font-weight="bold" text-anchor="middle" fill="#1c1a1b" >0</text>
<line x1="613.00" y1="1390.80" x2="613.00" y2="1398.50" stroke="#1c1a1b" stroke-width="1.7" />
<text x="613.0" y="1411.5" font-family="Liberation Sans" font-size="13" font-weight="bold" text-anchor="middle" fill="#1c1a1b" >14</text>
<text x="574.3" y="1432.0" font-family="Liberation Sans" font-size="14" font-weight="bold" text-anchor="middle" fill="#1c1a1b" >Day</text>
<text x="444.9" y="1299.8" font-family="Liberation Sans" font-size="14.2" font-weight="bold" text-anchor="middle" fill="#1c1a1b" transform="rotate(-90 444.9 1299.75)" dominant-baseline="central" letter-spacing="0.5">Mechanical withdrawal threshold (g)</text>
<circle cx="507.3" cy="1166.6" r="3.8" fill="#f04a4a"/>
<text x="525.6" y="1171.6" font-family="Liberation Sans" font-size="14" font-weight="bold" text-anchor="start" fill="#1c1a1b" letter-spacing="0.9">CCI</text>
<circle cx="507.3" cy="1186.2" r="3.8" fill="#49a8b2"/>
<text x="525.6" y="1191.2" font-family="Liberation Sans" font-size="14" font-weight="bold" text-anchor="start" fill="#1c1a1b" letter-spacing="0.5">i<tspan font-weight="normal">β</tspan>&#8201;ARK</text>
<circle cx="507.3" cy="1205.7" r="3.8" fill="#ee3a97"/>
<text x="525.6" y="1210.7" font-family="Liberation Sans" font-size="14" font-weight="bold" text-anchor="start" fill="#1c1a1b" letter-spacing="0.5">mCherry</text>
<circle cx="503.10" cy="1273.80" r="2.75" fill="none" stroke="#f04a4a" stroke-width="1.1"/>
<circle cx="503.10" cy="1281.80" r="2.75" fill="none" stroke="#f04a4a" stroke-width="1.1"/>
<circle cx="503.10" cy="1287.40" r="2.75" fill="none" stroke="#f04a4a" stroke-width="1.1"/>
<circle cx="503.10" cy="1305.20" r="2.75" fill="none" stroke="#f04a4a" stroke-width="1.1"/>
<circle cx="503.10" cy="1316.90" r="2.75" fill="none" stroke="#f04a4a" stroke-width="1.1"/>
<circle cx="503.10" cy="1332.20" r="2.75" fill="none" stroke="#f04a4a" stroke-width="1.1"/>
<circle cx="517.20" cy="1254.50" r="2.75" fill="none" stroke="#49a8b2" stroke-width="1.1"/>
<circle cx="514.30" cy="1305.20" r="2.75" fill="none" stroke="#49a8b2" stroke-width="1.1"/>
<circle cx="520.10" cy="1305.20" r="2.75" fill="none" stroke="#49a8b2" stroke-width="1.1"/>
<circle cx="514.30" cy="1312.90" r="2.75" fill="none" stroke="#49a8b2" stroke-width="1.1"/>
<circle cx="520.10" cy="1312.90" r="2.75" fill="none" stroke="#49a8b2" stroke-width="1.1"/>
<circle cx="517.20" cy="1324.60" r="2.75" fill="none" stroke="#49a8b2" stroke-width="1.1"/>
<circle cx="517.20" cy="1332.20" r="2.75" fill="none" stroke="#49a8b2" stroke-width="1.1"/>
<circle cx="517.20" cy="1339.90" r="2.75" fill="none" stroke="#49a8b2" stroke-width="1.1"/>
<circle cx="530.10" cy="1246.80" r="2.75" fill="none" stroke="#ee3a97" stroke-width="1.1"/>
<circle cx="530.10" cy="1285.50" r="2.75" fill="none" stroke="#ee3a97" stroke-width="1.1"/>
<circle cx="527.00" cy="1312.90" r="2.75" fill="none" stroke="#ee3a97" stroke-width="1.1"/>
<circle cx="532.80" cy="1312.90" r="2.75" fill="none" stroke="#ee3a97" stroke-width="1.1"/>
<circle cx="530.10" cy="1322.70" r="2.75" fill="none" stroke="#ee3a97" stroke-width="1.1"/>
<circle cx="530.10" cy="1340.20" r="2.75" fill="none" stroke="#ee3a97" stroke-width="1.1"/>
<circle cx="623.70" cy="1332.10" r="2.75" fill="none" stroke="#f04a4a" stroke-width="1.1"/>
<circle cx="623.70" cy="1347.90" r="2.75" fill="none" stroke="#f04a4a" stroke-width="1.1"/>
<circle cx="621.10" cy="1355.60" r="2.75" fill="none" stroke="#f04a4a" stroke-width="1.1"/>
<circle cx="627.20" cy="1355.60" r="2.75" fill="none" stroke="#f04a4a" stroke-width="1.1"/>
<circle cx="623.70" cy="1359.40" r="2.75" fill="none" stroke="#f04a4a" stroke-width="1.1"/>
<circle cx="623.70" cy="1380.10" r="2.75" fill="none" stroke="#f04a4a" stroke-width="1.1"/>
<circle cx="636.70" cy="1234.90" r="2.75" fill="none" stroke="#49a8b2" stroke-width="1.1"/>
<circle cx="633.60" cy="1274.00" r="2.75" fill="none" stroke="#49a8b2" stroke-width="1.1"/>
<circle cx="637.90" cy="1274.00" r="2.75" fill="none" stroke="#49a8b2" stroke-width="1.1"/>
<circle cx="636.70" cy="1293.20" r="2.75" fill="none" stroke="#49a8b2" stroke-width="1.1"/>
<circle cx="636.70" cy="1308.80" r="2.75" fill="none" stroke="#49a8b2" stroke-width="1.1"/>
<circle cx="636.70" cy="1332.10" r="2.75" fill="none" stroke="#49a8b2" stroke-width="1.1"/>
<circle cx="637.50" cy="1343.60" r="2.75" fill="none" stroke="#49a8b2" stroke-width="1.1"/>
<circle cx="637.50" cy="1347.10" r="2.75" fill="none" stroke="#49a8b2" stroke-width="1.1"/>
<circle cx="648.70" cy="1339.80" r="2.75" fill="none" stroke="#ee3a97" stroke-width="1.1"/>
<circle cx="653.90" cy="1339.80" r="2.75" fill="none" stroke="#ee3a97" stroke-width="1.1"/>
<circle cx="651.70" cy="1355.60" r="2.75" fill="none" stroke="#ee3a97" stroke-width="1.1"/>
<circle cx="651.70" cy="1359.40" r="2.75" fill="none" stroke="#ee3a97" stroke-width="1.1"/>
<circle cx="651.70" cy="1367.00" r="2.75" fill="none" stroke="#ee3a97" stroke-width="1.1"/>
<circle cx="651.70" cy="1372.40" r="2.75" fill="none" stroke="#ee3a97" stroke-width="1.1"/>
<line x1="538.40" y1="1299.80" x2="613.40" y2="1356.00" stroke="#1c1a1b" stroke-width="1.0" />
<line x1="538.40" y1="1304.50" x2="613.40" y2="1356.00" stroke="#1c1a1b" stroke-width="1.0" />
<line x1="538.40" y1="1312.00" x2="613.40" y2="1301.90" stroke="#1c1a1b" stroke-width="1.0" />
<line x1="538.40" y1="1290.30" x2="538.40" y2="1320.20" stroke="#1c1a1b" stroke-width="1.2" />
<line x1="534.90" y1="1290.30" x2="541.90" y2="1290.30" stroke="#1c1a1b" stroke-width="1.2" />
<line x1="534.90" y1="1320.20" x2="541.90" y2="1320.20" stroke="#1c1a1b" stroke-width="1.2" />
<line x1="613.40" y1="1287.70" x2="613.40" y2="1315.70" stroke="#1c1a1b" stroke-width="1.2" />
<line x1="609.90" y1="1287.70" x2="616.90" y2="1287.70" stroke="#1c1a1b" stroke-width="1.2" />
<line x1="609.90" y1="1315.70" x2="616.90" y2="1315.70" stroke="#1c1a1b" stroke-width="1.2" />
<line x1="613.40" y1="1349.40" x2="613.40" y2="1362.50" stroke="#1c1a1b" stroke-width="1.2" />
<line x1="609.90" y1="1349.40" x2="616.90" y2="1349.40" stroke="#1c1a1b" stroke-width="1.2" />
<line x1="609.90" y1="1362.50" x2="616.90" y2="1362.50" stroke="#1c1a1b" stroke-width="1.2" />
<line x1="535.00" y1="1317.30" x2="542.00" y2="1317.30" stroke="#1c1a1b" stroke-width="1.2" />
<circle cx="538.4" cy="1312" r="3.3" fill="#49a8b2"/>
<circle cx="538.4" cy="1304.5" r="3.3" fill="#ee3a97"/>
<circle cx="538.4" cy="1299.8" r="3.3" fill="#f04a4a"/>
<circle cx="613.4" cy="1301.9" r="3.4" fill="#49a8b2"/>
<circle cx="613.4" cy="1356" r="3.4" fill="#f04a4a"/>
<polyline points="658.10,1297.80 666.30,1297.80 666.30,1352.10 658.10,1352.10" fill="none" stroke="#1c1a1b" stroke-width="1.6" stroke-linejoin="miter" />
<polyline points="658.10,1355.00 666.30,1355.00 666.30,1361.60 658.10,1361.60" fill="none" stroke="#1c1a1b" stroke-width="1.6" stroke-linejoin="miter" />
<text x="0" y="0" font-family="Liberation Sans" font-weight="bold" font-size="27" text-anchor="middle" fill="#1c1a1b" transform="translate(678.4 1318.6) rotate(90) translate(0.5 14.5)">*</text>
<text x="0" y="0" font-family="Liberation Sans" font-weight="bold" font-size="27" text-anchor="middle" fill="#1c1a1b" transform="translate(678.4 1330.4) rotate(90) translate(0.5 14.5)">*</text>
<text x="0" y="0" font-family="Liberation Sans" font-size="15" text-anchor="middle" fill="#1c1a1b" transform="translate(675.5 1358.5) rotate(90) translate(0 4)">ns</text>
<defs>
<filter id="spk" x="0" y="0" width="100%" height="100%" filterUnits="objectBoundingBox">
<feTurbulence type="fractalNoise" baseFrequency="0.32" numOctaves="3" seed="4" result="n"/>
<feColorMatrix in="n" type="matrix" values="0 0 0 0 1  0 0 0 0 1  0 0 0 0 1  5 0 0 0 -2.05" result="w"/>
<feGaussianBlur in="w" stdDeviation="0.35" result="wb"/>
<feComposite in="wb" in2="SourceAlpha" operator="in"/>
</filter>
<filter id="spk2" x="0" y="0" width="100%" height="100%" filterUnits="objectBoundingBox">
<feTurbulence type="fractalNoise" baseFrequency="0.22" numOctaves="2" seed="11" result="n"/>
<feColorMatrix in="n" type="matrix" values="0 0 0 0 0.1  0 0 0 0 0.1  0 0 0 0 0.1  -5 0 0 0 2.2" result="w"/>
<feGaussianBlur in="w" stdDeviation="0.4" result="wb"/>
<feComposite in="wb" in2="SourceAlpha" operator="in"/>
</filter>
<filter id="spk3" x="0" y="0" width="100%" height="100%" filterUnits="objectBoundingBox">
<feTurbulence type="fractalNoise" baseFrequency="0.34" numOctaves="3" seed="21" result="n"/>
<feColorMatrix in="n" type="matrix" values="0 0 0 0 1  0 0 0 0 1  0 0 0 0 1  5 0 0 0 -2.45" result="w"/>
<feGaussianBlur in="w" stdDeviation="0.35" result="wb"/>
<feComposite in="wb" in2="SourceAlpha" operator="in"/>
</filter>
<filter id="blur1"><feGaussianBlur stdDeviation="1.6"/></filter>
<filter id="blur2"><feGaussianBlur stdDeviation="2.5"/></filter>
</defs>
<rect x="25.3" y="36.1" width="65.4" height="94.6" fill="#000"/>
<path d="M38.7,42.8 L49.2,41.1 L60.9,42.8 L72.6,45.2 L83.1,42.8 L88.9,39.3 L90.4,45.0 L90.4,125.8 L88.9,129.3 L72.6,126.9 L60.9,123.4 L49.2,118.8 L37.5,113.0 L31.7,105.9 L27.0,95.4 L27.0,79.0 L27.0,56.9 L30.5,49.9Z" fill="#747474"/>
<path d="M38.7,42.8 L49.2,41.1 L60.9,42.8 L72.6,45.2 L83.1,42.8 L88.9,39.3 L90.4,45.0 L90.4,125.8 L88.9,129.3 L72.6,126.9 L60.9,123.4 L49.2,118.8 L37.5,113.0 L31.7,105.9 L27.0,95.4 L27.0,79.0 L27.0,56.9 L30.5,49.9Z" fill="#fff" filter="url(#spk)"/>
<path d="M38.7,42.8 L49.2,41.1 L60.9,42.8 L72.6,45.2 L83.1,42.8 L88.9,39.3 L90.4,45.0 L90.4,125.8 L88.9,129.3 L72.6,126.9 L60.9,123.4 L49.2,118.8 L37.5,113.0 L31.7,105.9 L27.0,95.4 L27.0,79.0 L27.0,56.9 L30.5,49.9Z" fill="#fff" filter="url(#spk2)"/>
<g filter="url(#blur1)" opacity="0.85"><ellipse cx="59" cy="95" rx="11" ry="12" fill="#eef5a0" opacity="0.8"/><circle cx="49.2" cy="48" r="3.5" fill="#d070e0"/><circle cx="70.2" cy="53.4" r="3.6" fill="#a040d0"/><circle cx="86" cy="55" r="3.2" fill="#60a0e0"/><circle cx="41" cy="95" r="2.4" fill="#40d0b0"/><circle cx="85.4" cy="96.6" r="2.4" fill="#40d0a0"/><circle cx="66.7" cy="114" r="3" fill="#80d0f0"/><circle cx="44.5" cy="116" r="2" fill="#70a0e0"/></g>
<defs><radialGradient id="cg1"><stop offset="0" stop-color="#fff" stop-opacity="1"/><stop offset="0.55" stop-color="#fff" stop-opacity="0.75"/><stop offset="1" stop-color="#fff" stop-opacity="0"/></radialGradient></defs>
<ellipse cx="60" cy="96" rx="20" ry="26" fill="url(#cg1)"/>
<g filter="url(#blur1)"><path d="M57,68 L61,88 L75,84 L63,95 L74,112 L58,100 L44,108 L54,95 L40,86 L55,90 Z" fill="#fff"/></g>
<circle cx="52" cy="88" r="1.5" fill="#d8e860" opacity="0.85"/>
<circle cx="66" cy="86" r="1.5" fill="#d8e860" opacity="0.85"/>
<circle cx="70" cy="96" r="1.5" fill="#d8e860" opacity="0.85"/>
<circle cx="50" cy="100" r="1.5" fill="#d8e860" opacity="0.85"/>
<circle cx="62" cy="106" r="1.5" fill="#d8e860" opacity="0.85"/>
<circle cx="56" cy="92" r="1.5" fill="#d8e860" opacity="0.85"/>
<circle cx="68" cy="104" r="1.5" fill="#d8e860" opacity="0.85"/>
<circle cx="48" cy="92" r="1.5" fill="#d8e860" opacity="0.85"/>
<circle cx="74" cy="90" r="1.5" fill="#d8e860" opacity="0.85"/>
<circle cx="58" cy="112" r="1.5" fill="#d8e860" opacity="0.85"/>
<circle cx="59.7" cy="49.9" r="1.8" fill="#fff"/>
<rect x="79.6" y="128" width="9.3" height="1.6" fill="#fff"/>
<text x="26.4" y="46.9" font-family="Liberation Sans" font-size="10" font-weight="bold" text-anchor="start" fill="#e83838" letter-spacing="1.2">CCI</text>
<rect x="26.1" y="137.6" width="64.9" height="63.1" fill="#000"/>
<path d="M27.0,142.5 L37.5,139.0 L55.0,138.4 L66.7,140.2 L76.1,144.8 L80.7,151.9 L84.2,161.2 L81.9,170.5 L80.7,176.4 L86.6,181.0 L90.1,186.9 L88.9,193.9 L85.4,197.4 L69.0,199.7 L43.4,200.3 L29.3,195.1 L27.0,185.7 L26.4,167.0 L27.0,149.5Z" fill="#686868"/>
<path d="M27.0,142.5 L37.5,139.0 L55.0,138.4 L66.7,140.2 L76.1,144.8 L80.7,151.9 L84.2,161.2 L81.9,170.5 L80.7,176.4 L86.6,181.0 L90.1,186.9 L88.9,193.9 L85.4,197.4 L69.0,199.7 L43.4,200.3 L29.3,195.1 L27.0,185.7 L26.4,167.0 L27.0,149.5Z" fill="#fff" filter="url(#spk3)"/>
<path d="M27.0,142.5 L37.5,139.0 L55.0,138.4 L66.7,140.2 L76.1,144.8 L80.7,151.9 L84.2,161.2 L81.9,170.5 L80.7,176.4 L86.6,181.0 L90.1,186.9 L88.9,193.9 L85.4,197.4 L69.0,199.7 L43.4,200.3 L29.3,195.1 L27.0,185.7 L26.4,167.0 L27.0,149.5Z" fill="#fff" filter="url(#spk2)"/>
<g filter="url(#blur1)" opacity="0.75"><ellipse cx="76" cy="163" rx="6" ry="9" fill="#9060e0"/><ellipse cx="40" cy="178" rx="12" ry="6" fill="#c89078"/><circle cx="52.7" cy="159" r="2.8" fill="#40c040"/><circle cx="64.4" cy="156.5" r="3.2" fill="#40c040"/></g>
<g filter="url(#blur1)"><path d="M55,146 L58,166 L72,170 L57,172 L52,186 L50,173 L38,174 L51,166 Z" fill="#fff"/></g>
<rect x="80.1" y="198" width="9.7" height="1.6" fill="#fff"/>
<text x="27.0" y="148.9" font-family="Liberation Sans" font-size="10" font-weight="bold" text-anchor="start" fill="#3aa6b4" letter-spacing="0.5">iβARK</text>
<rect x="25.6" y="207.9" width="65.4" height="80.6" fill="#000"/>
<path d="M25.8,213.8 L43.4,209.1 L72.6,211.4 L83.1,213.8 L90.1,224.3 L90.1,246.5 L87.7,253.5 L72.6,255.2 L58.5,253.5 L57.4,255.8 L63.2,267.5 L60.9,275.6 L37.5,286.2 L27.0,283.8 L26.4,248.8 L25.8,223.1Z" fill="#a8a8a8"/>
<path d="M25.8,213.8 L43.4,209.1 L72.6,211.4 L83.1,213.8 L90.1,224.3 L90.1,246.5 L87.7,253.5 L72.6,255.2 L58.5,253.5 L57.4,255.8 L63.2,267.5 L60.9,275.6 L37.5,286.2 L27.0,283.8 L26.4,248.8 L25.8,223.1Z" fill="#fff" filter="url(#spk)"/>
<g filter="url(#blur2)"><path d="M56,224 L78,226 L89,238 L84,252 L64,252 L54,242 Z" fill="#fff" opacity="0.95"/><path d="M28,252 L52,256 L62,270 L46,285 L29,281 Z" fill="#f0ffff" opacity="0.9"/><path d="M70,214 L60,235 L48,252 L40,262 L52,258 L64,240 Z" fill="#fff"/><ellipse cx="40" cy="270" rx="7" ry="5" fill="#90f0f0" opacity="0.7"/><ellipse cx="32" cy="230" rx="6" ry="4" fill="#fff" opacity="0.8"/></g>
<path d="M25.8,213.8 L43.4,209.1 L72.6,211.4 L83.1,213.8 L90.1,224.3 L90.1,246.5 L87.7,253.5 L72.6,255.2 L58.5,253.5 L57.4,255.8 L63.2,267.5 L60.9,275.6 L37.5,286.2 L27.0,283.8 L26.4,248.8 L25.8,223.1Z" fill="#fff" filter="url(#spk2)" opacity="0.6"/>
<rect x="78.5" y="286" width="10.5" height="1.6" fill="#fff"/>
<text x="26.4" y="219.5" font-family="Liberation Sans" font-size="10" font-weight="bold" text-anchor="start" fill="#e82e8c" letter-spacing="0.3">mCherry</text>
</svg></body></html>
